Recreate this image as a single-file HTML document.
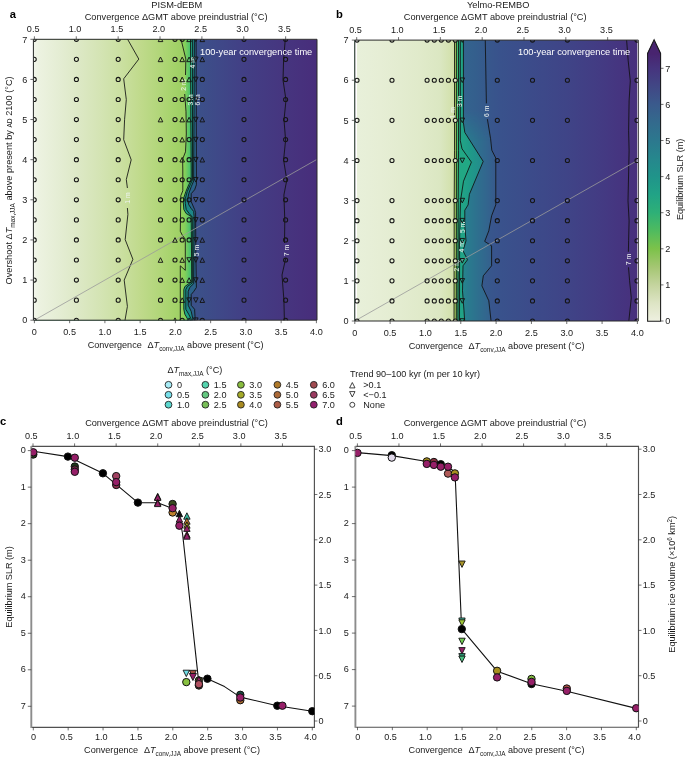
<!DOCTYPE html>
<html><head><meta charset="utf-8"><style>
html,body{margin:0;padding:0;background:#fff;overflow:hidden;}
svg{display:block;will-change:transform;}
</style></head><body>
<svg width="685" height="759" viewBox="0 0 685 759" font-family="'Liberation Sans', sans-serif">
<defs><linearGradient id="gaL" gradientUnits="userSpaceOnUse" x1="34" y1="0" x2="183" y2="0"><stop offset="0.0000" stop-color="#f1f5ea"/><stop offset="0.0403" stop-color="#ecf2e0"/><stop offset="0.1745" stop-color="#e4edd3"/><stop offset="0.3087" stop-color="#dce8c4"/><stop offset="0.4430" stop-color="#d4e4b4"/><stop offset="0.5772" stop-color="#cbe0a2"/><stop offset="0.7114" stop-color="#c0da8c"/><stop offset="0.8121" stop-color="#b5d77e"/><stop offset="0.9128" stop-color="#a8d46e"/><stop offset="1.0000" stop-color="#9ccf62"/></linearGradient><linearGradient id="gaG" gradientUnits="userSpaceOnUse" x1="181" y1="0" x2="191" y2="0"><stop offset="0.0000" stop-color="#96d25c"/><stop offset="0.4000" stop-color="#84d05a"/><stop offset="0.7000" stop-color="#62c866"/><stop offset="1.0000" stop-color="#40c070"/></linearGradient><linearGradient id="gaR" gradientUnits="userSpaceOnUse" x1="196" y1="0" x2="317" y2="0"><stop offset="0.0000" stop-color="#3b5189"/><stop offset="0.1983" stop-color="#3f4888"/><stop offset="0.3967" stop-color="#423f85"/><stop offset="0.5702" stop-color="#443a82"/><stop offset="0.7355" stop-color="#46357f"/><stop offset="1.0000" stop-color="#482d7b"/></linearGradient><clipPath id="ca"><rect x="33.9" y="39.3" width="283.1" height="280.9"/></clipPath><clipPath id="cb"><rect x="354.8" y="39.3" width="283.2" height="280.9"/></clipPath><linearGradient id="gbL" gradientUnits="userSpaceOnUse" x1="355" y1="0" x2="456" y2="0"><stop offset="0.0000" stop-color="#ffffff"/><stop offset="0.0158" stop-color="#ffffff"/><stop offset="0.0198" stop-color="#e8f0da"/><stop offset="0.2475" stop-color="#e6eed5"/><stop offset="0.4455" stop-color="#e3ecd0"/><stop offset="0.6436" stop-color="#e0eaca"/><stop offset="0.8416" stop-color="#dbe7c2"/><stop offset="0.9406" stop-color="#d4e2b0"/><stop offset="1.0000" stop-color="#cbdd9f"/></linearGradient><linearGradient id="gbR" gradientUnits="userSpaceOnUse" x1="463" y1="0" x2="638" y2="0"><stop offset="0.0000" stop-color="#33638e"/><stop offset="0.0686" stop-color="#345e8d"/><stop offset="0.1314" stop-color="#37588c"/><stop offset="0.2114" stop-color="#39528c"/><stop offset="0.3943" stop-color="#3c4b8a"/><stop offset="0.5943" stop-color="#3f4487"/><stop offset="0.7829" stop-color="#433b83"/><stop offset="0.9257" stop-color="#46337f"/><stop offset="0.9920" stop-color="#48307c"/><stop offset="0.9931" stop-color="#d8d0e8"/><stop offset="1.0000" stop-color="#d8d0e8"/></linearGradient><linearGradient id="gbM" gradientUnits="userSpaceOnUse" x1="463" y1="0" x2="496" y2="0"><stop offset="0.0000" stop-color="#24868c"/><stop offset="0.1515" stop-color="#297b8e"/><stop offset="0.4545" stop-color="#2e6f8e"/><stop offset="0.7576" stop-color="#33648e"/><stop offset="1.0000" stop-color="#37598c"/></linearGradient><linearGradient id="gbT" gradientUnits="userSpaceOnUse" x1="463" y1="0" x2="496" y2="0"><stop offset="0.0000" stop-color="#33648e"/><stop offset="0.3636" stop-color="#345f8d"/><stop offset="0.6970" stop-color="#36598c"/><stop offset="1.0000" stop-color="#38558c"/></linearGradient><linearGradient id="vfade" gradientUnits="userSpaceOnUse" x1="0" y1="110" x2="0" y2="140"><stop offset="0" stop-color="#fff"/><stop offset="1" stop-color="#000"/></linearGradient><mask id="mtop"><rect x="354.8" y="39.3" width="283.2" height="280.9" fill="url(#vfade)"/></mask><linearGradient id="gbB" gradientUnits="userSpaceOnUse" x1="463" y1="0" x2="485" y2="0"><stop offset="0.0000" stop-color="#21a386"/><stop offset="0.3182" stop-color="#1f9a88"/><stop offset="0.6818" stop-color="#22908b"/><stop offset="1.0000" stop-color="#258a8c"/></linearGradient><linearGradient id="gcb" gradientUnits="userSpaceOnUse" x1="0" y1="321" x2="0" y2="53.4"><stop offset="0.0000" stop-color="#eef0e0"/><stop offset="0.0675" stop-color="#dde4c4"/><stop offset="0.1349" stop-color="#c4d49e"/><stop offset="0.2024" stop-color="#a4c672"/><stop offset="0.2698" stop-color="#7cc24a"/><stop offset="0.3373" stop-color="#4fbb5f"/><stop offset="0.4047" stop-color="#2eb077"/><stop offset="0.4722" stop-color="#21a386"/><stop offset="0.5396" stop-color="#20948a"/><stop offset="0.6071" stop-color="#26878d"/><stop offset="0.6745" stop-color="#2c788e"/><stop offset="0.7420" stop-color="#336a8d"/><stop offset="0.8094" stop-color="#3a5a8c"/><stop offset="0.8769" stop-color="#414785"/><stop offset="0.9443" stop-color="#46347e"/><stop offset="1.0010" stop-color="#48246f"/></linearGradient><clipPath id="cc"><rect x="31.3" y="446.4" width="283.09999999999997" height="281.0"/></clipPath><clipPath id="cd"><rect x="355.4" y="446.4" width="283.1" height="280.80000000000007"/></clipPath></defs>
<rect width="685" height="759" fill="#fff"/>
<g clip-path="url(#ca)">
<rect x="33.9" y="39.3" width="283.1" height="280.9" fill="url(#gaR)"/>
<polygon points="31.90,34.30 196.10,35.00 196.30,120.00 196.40,170.00 196.40,184.80 194.60,189.80 191.20,193.70 191.20,201.60 194.60,209.50 195.60,212.50 195.80,250.00 196.40,287.50 193.70,291.50 191.20,294.50 191.20,305.30 194.60,309.30 195.10,318.20 195.30,325.00 31.90,325.20" fill="#2b638a"/>
<polygon points="31.90,34.30 194.40,35.00 194.00,120.00 193.70,170.00 193.70,180.90 191.20,186.80 188.70,193.70 187.70,199.60 188.70,204.60 191.20,208.50 193.70,211.50 194.20,217.40 193.90,250.00 193.70,283.60 189.70,287.50 188.20,291.50 188.20,305.30 191.20,311.30 192.70,318.20 193.00,325.00 31.90,325.20" fill="#1d8686"/>
<polygon points="31.90,34.30 192.40,35.00 192.50,120.00 192.50,170.00 192.50,179.90 190.20,184.80 187.20,191.70 185.30,198.70 185.30,203.60 186.20,209.50 189.20,213.50 192.70,217.40 192.70,250.00 192.70,282.60 187.20,286.60 185.80,289.50 185.80,309.30 188.70,314.20 191.20,319.20 191.80,325.00 31.90,325.20" fill="#1fa584"/>
<polygon points="31.90,34.30 190.50,35.00 190.80,120.00 191.20,170.00 191.20,179.90 188.70,184.80 185.80,191.70 183.80,197.70 183.30,202.60 183.80,209.50 186.20,213.50 191.20,216.40 191.50,250.00 191.70,281.60 184.80,286.60 183.80,289.50 183.80,309.30 184.80,314.20 187.70,319.20 188.50,325.00 31.90,325.20" fill="url(#gaG)"/>
<polygon points="31.90,34.30 181.00,35.00 181.00,39.20 185.80,59.00 185.50,75.00 184.90,86.00 184.70,94.00 186.00,111.70 186.30,134.00 185.50,151.80 182.60,159.20 182.80,170.00 182.80,190.80 180.80,195.70 180.30,231.30 182.30,235.20 185.30,239.20 185.30,270.30 180.30,265.80 180.30,325.00 31.90,325.20" fill="url(#gaL)"/>
</g>
<g transform="translate(0,0.8)"><g clip-path="url(#cb)">
<rect x="354.8" y="39.3" width="283.2" height="280.9" fill="url(#gbR)"/>
<polygon points="352.80,34.30 485.20,35.00 486.40,102.60 487.40,118.40 490.60,138.00 491.80,149.40 495.80,157.30 495.80,204.00 491.60,215.00 488.80,230.00 484.70,240.60 491.60,245.00 491.60,265.00 483.30,275.00 481.90,285.00 488.80,300.00 491.60,325.00 352.80,325.20" fill="url(#gbM)"/>
<polygon points="352.80,34.30 485.20,35.00 486.40,102.60 487.40,118.40 490.60,138.00 491.80,149.40 495.80,157.30 495.80,204.00 491.60,215.00 488.80,230.00 484.70,240.60 491.60,245.00 491.60,265.00 483.30,275.00 481.90,285.00 488.80,300.00 491.60,325.00 352.80,325.20" fill="url(#gbT)" mask="url(#mtop)"/>
<polygon points="352.80,34.30 463.40,35.00 463.40,122.00 464.80,131.60 483.20,160.60 469.40,193.50 468.10,204.10 464.80,209.40 464.80,225.00 466.00,240.00 463.00,250.00 467.50,259.00 463.00,265.00 462.50,290.00 464.00,310.00 465.00,325.00 352.80,325.20" fill="url(#gbB)"/>
<polygon points="352.80,34.30 460.30,35.00 460.30,140.00 462.00,148.00 471.40,161.30 463.50,180.40 460.50,200.00 459.60,240.00 459.50,325.00 352.80,325.20" fill="#22a884"/>
<polygon points="352.80,34.30 458.50,35.00 458.50,150.00 458.20,200.00 457.90,325.00 352.80,325.20" fill="#40c070"/>
<polygon points="352.80,34.30 456.40,35.00 456.40,150.00 456.40,200.00 456.30,325.00 352.80,325.20" fill="#a0c860"/>
<polygon points="352.80,34.30 454.50,35.00 454.50,150.00 454.20,200.00 454.00,325.00 352.80,325.20" fill="url(#gbL)"/>
</g></g>
<g clip-path="url(#ca)" fill="none" stroke="#111" stroke-width="0.85" stroke-linejoin="round">
<polyline points="127.40,35.00 127.40,38.90 138.80,59.10 123.70,78.80 126.30,99.60 124.60,119.30 123.70,139.70 131.20,159.80 126.30,179.50 127.40,188.00"/>
<polyline points="127.40,208.00 127.90,214.40 125.20,239.60 132.90,259.30 124.20,280.10 127.40,306.40 124.20,325.00"/>
<polyline points="181.00,35.00 181.00,39.20 185.80,59.00 185.50,75.00"/>
<polyline points="184.70,94.00 186.00,111.70 186.30,134.00 185.50,151.80 182.60,159.20 182.80,170.00 182.80,190.80 180.80,195.70 180.30,231.30 182.30,235.20 185.30,239.20 185.30,270.30 180.30,265.80 180.30,325.00"/>
<polyline points="190.50,35.00 190.80,120.00 191.20,170.00 191.20,179.90 188.70,184.80 185.80,191.70 183.80,197.70 183.30,202.60 183.80,209.50 186.20,213.50 191.20,216.40 191.50,250.00 191.70,281.60 184.80,286.60 183.80,289.50 183.80,309.30 184.80,314.20 187.70,319.20 188.50,325.00"/>
<polyline points="192.40,35.00 192.50,120.00 192.50,170.00 192.50,179.90 190.20,184.80 187.20,191.70 185.30,198.70 185.30,203.60 186.20,209.50 189.20,213.50 192.70,217.40 192.70,250.00 192.70,282.60 187.20,286.60 185.80,289.50 185.80,309.30 188.70,314.20 191.20,319.20 191.80,325.00"/>
<polyline points="194.40,35.00 194.00,120.00 193.70,170.00 193.70,180.90 191.20,186.80 188.70,193.70 187.70,199.60 188.70,204.60 191.20,208.50 193.70,211.50 194.20,217.40 193.90,250.00 193.70,283.60 189.70,287.50 188.20,291.50 188.20,305.30 191.20,311.30 192.70,318.20 193.00,325.00"/>
<polyline points="196.10,35.00 196.30,120.00 196.40,170.00 196.40,184.80 194.60,189.80 191.20,193.70 191.20,201.60 194.60,209.50 195.60,212.50 195.80,250.00 196.40,287.50 193.70,291.50 191.20,294.50 191.20,305.30 194.60,309.30 195.10,318.20 195.30,325.00"/>
<polyline points="285.60,35.00 283.60,60.00 283.00,80.00 286.00,100.00 284.00,120.00 285.60,140.00 283.60,160.00 286.80,180.00 283.90,195.00 284.80,220.00 284.50,243.00"/>
<polyline points="285.80,258.00 282.00,275.00 283.90,300.00 284.50,325.00"/>
</g>
<g transform="translate(0,0.8)"><g clip-path="url(#cb)" fill="none" stroke="#111" stroke-width="0.85" stroke-linejoin="round">
<polyline points="454.50,35.00 454.50,150.00 454.20,200.00 454.00,325.00"/>
<polyline points="456.40,35.00 456.40,150.00 456.40,200.00 456.30,325.00"/>
<polyline points="458.50,35.00 458.50,150.00 458.20,200.00 457.90,325.00"/>
<polyline points="460.30,35.00 460.30,140.00 462.00,148.00 471.40,161.30 463.50,180.40 460.50,200.00 459.60,240.00 459.50,325.00"/>
<polyline points="463.40,35.00 463.40,122.00 464.80,131.60 483.20,160.60 469.40,193.50 468.10,204.10 464.80,209.40 464.80,225.00 466.00,240.00 463.00,250.00 467.50,259.00 463.00,265.00 462.50,290.00 464.00,310.00 465.00,325.00"/>
<polyline points="485.20,35.00 486.40,102.60"/>
<polyline points="487.40,118.40 490.60,138.00 491.80,149.40 495.80,157.30 495.80,204.00 491.60,215.00 488.80,230.00 484.70,240.60 491.60,245.00 491.60,265.00 483.30,275.00 481.90,285.00 488.80,300.00 491.60,325.00"/>
<polyline points="626.30,35.00 628.20,60.00 630.30,80.00 629.10,100.00 628.60,130.00 629.10,150.00 628.00,200.00 629.10,220.00 628.60,240.00 628.40,251.00"/>
<polyline points="628.50,266.50 629.60,280.00 631.30,297.00 628.30,325.00"/>
</g></g>
<text x="127.4" y="200.4" font-size="6.8" fill="#eef4f0" text-anchor="middle" transform="rotate(-90 127.4 198.0)">1 m</text>
<text x="183.7" y="87.4" font-size="6.8" fill="#eef4f0" text-anchor="middle" transform="rotate(-90 183.7 85.0)">2 m</text>
<text x="192.5" y="65.2" font-size="6.8" fill="#eef4f0" text-anchor="middle" transform="rotate(-90 192.5 62.8)">4 m</text>
<text x="190.4" y="102.3" font-size="6.8" fill="#eef4f0" text-anchor="middle" transform="rotate(-90 190.4 99.9)">3 m</text>
<text x="197.6" y="102.3" font-size="6.8" fill="#eef4f0" text-anchor="middle" transform="rotate(-90 197.6 99.9)">6 m</text>
<text x="196.3" y="252.9" font-size="6.8" fill="#eef4f0" text-anchor="middle" transform="rotate(-90 196.3 250.5)">5 m</text>
<text x="286.5" y="252.9" font-size="6.8" fill="#eef4f0" text-anchor="middle" transform="rotate(-90 286.5 250.5)">7 m</text>
<g transform="translate(0,0.8)">
<text x="453.0" y="114.4" font-size="6.8" fill="#eef4f0" text-anchor="middle" transform="rotate(-90 453.0 112.0)">1 m</text>
<text x="459.8" y="103.0" font-size="6.8" fill="#eef4f0" text-anchor="middle" transform="rotate(-90 459.8 100.6)">3 m</text>
<text x="486.8" y="112.9" font-size="6.8" fill="#eef4f0" text-anchor="middle" transform="rotate(-90 486.8 110.5)">6 m</text>
<text x="462.5" y="228.9" font-size="6.8" fill="#eef4f0" text-anchor="middle" transform="rotate(-90 462.5 226.5)">5 m</text>
<text x="462.0" y="248.4" font-size="6.8" fill="#eef4f0" text-anchor="middle" transform="rotate(-90 462.0 246.0)">4 m</text>
<text x="456.5" y="267.4" font-size="6.8" fill="#eef4f0" text-anchor="middle" transform="rotate(-90 456.5 265.0)">2 m</text>
<text x="628.5" y="261.1" font-size="6.8" fill="#eef4f0" text-anchor="middle" transform="rotate(-90 628.5 258.7)">7 m</text>
</g>
<g clip-path="url(#ca)"><line x1="34.4" y1="320.2" x2="316.4" y2="159.68571428571428" stroke="#9a9a9a" stroke-width="0.8"/></g>
<g transform="translate(0,0.8)"><g clip-path="url(#cb)"><line x1="354.8" y1="320.2" x2="637.4" y2="159.68571428571428" stroke="#9a9a9a" stroke-width="0.8"/></g></g>
<g clip-path="url(#ca)">
<circle cx="34.20" cy="39.30" r="2.05" fill="none" stroke="#151515" stroke-width="1.05"/>
<circle cx="34.20" cy="59.36" r="2.05" fill="none" stroke="#151515" stroke-width="1.05"/>
<circle cx="34.20" cy="79.43" r="2.05" fill="none" stroke="#151515" stroke-width="1.05"/>
<circle cx="34.20" cy="99.49" r="2.05" fill="none" stroke="#151515" stroke-width="1.05"/>
<circle cx="34.20" cy="119.56" r="2.05" fill="none" stroke="#151515" stroke-width="1.05"/>
<circle cx="34.20" cy="139.62" r="2.05" fill="none" stroke="#151515" stroke-width="1.05"/>
<circle cx="34.20" cy="159.69" r="2.05" fill="none" stroke="#151515" stroke-width="1.05"/>
<circle cx="34.20" cy="179.75" r="2.05" fill="none" stroke="#151515" stroke-width="1.05"/>
<circle cx="34.20" cy="199.81" r="2.05" fill="none" stroke="#151515" stroke-width="1.05"/>
<circle cx="34.20" cy="219.88" r="2.05" fill="none" stroke="#151515" stroke-width="1.05"/>
<circle cx="34.20" cy="239.94" r="2.05" fill="none" stroke="#151515" stroke-width="1.05"/>
<circle cx="34.20" cy="260.01" r="2.05" fill="none" stroke="#151515" stroke-width="1.05"/>
<circle cx="34.20" cy="280.07" r="2.05" fill="none" stroke="#151515" stroke-width="1.05"/>
<circle cx="34.20" cy="300.14" r="2.05" fill="none" stroke="#151515" stroke-width="1.05"/>
<circle cx="34.20" cy="320.20" r="2.05" fill="none" stroke="#151515" stroke-width="1.05"/>
<circle cx="76.40" cy="39.30" r="2.05" fill="none" stroke="#151515" stroke-width="1.05"/>
<circle cx="76.40" cy="59.36" r="2.05" fill="none" stroke="#151515" stroke-width="1.05"/>
<circle cx="76.40" cy="79.43" r="2.05" fill="none" stroke="#151515" stroke-width="1.05"/>
<circle cx="76.40" cy="99.49" r="2.05" fill="none" stroke="#151515" stroke-width="1.05"/>
<circle cx="76.40" cy="119.56" r="2.05" fill="none" stroke="#151515" stroke-width="1.05"/>
<circle cx="76.40" cy="139.62" r="2.05" fill="none" stroke="#151515" stroke-width="1.05"/>
<circle cx="76.40" cy="159.69" r="2.05" fill="none" stroke="#151515" stroke-width="1.05"/>
<circle cx="76.40" cy="179.75" r="2.05" fill="none" stroke="#151515" stroke-width="1.05"/>
<circle cx="76.40" cy="199.81" r="2.05" fill="none" stroke="#151515" stroke-width="1.05"/>
<circle cx="76.40" cy="219.88" r="2.05" fill="none" stroke="#151515" stroke-width="1.05"/>
<circle cx="76.40" cy="239.94" r="2.05" fill="none" stroke="#151515" stroke-width="1.05"/>
<circle cx="76.40" cy="260.01" r="2.05" fill="none" stroke="#151515" stroke-width="1.05"/>
<circle cx="76.40" cy="280.07" r="2.05" fill="none" stroke="#151515" stroke-width="1.05"/>
<circle cx="76.40" cy="300.14" r="2.05" fill="none" stroke="#151515" stroke-width="1.05"/>
<circle cx="76.40" cy="320.20" r="2.05" fill="none" stroke="#151515" stroke-width="1.05"/>
<circle cx="118.20" cy="39.30" r="2.05" fill="none" stroke="#151515" stroke-width="1.05"/>
<circle cx="118.20" cy="59.36" r="2.05" fill="none" stroke="#151515" stroke-width="1.05"/>
<circle cx="118.20" cy="79.43" r="2.05" fill="none" stroke="#151515" stroke-width="1.05"/>
<circle cx="118.20" cy="99.49" r="2.05" fill="none" stroke="#151515" stroke-width="1.05"/>
<circle cx="118.20" cy="119.56" r="2.05" fill="none" stroke="#151515" stroke-width="1.05"/>
<circle cx="118.20" cy="139.62" r="2.05" fill="none" stroke="#151515" stroke-width="1.05"/>
<circle cx="118.20" cy="159.69" r="2.05" fill="none" stroke="#151515" stroke-width="1.05"/>
<circle cx="118.20" cy="179.75" r="2.05" fill="none" stroke="#151515" stroke-width="1.05"/>
<circle cx="118.20" cy="199.81" r="2.05" fill="none" stroke="#151515" stroke-width="1.05"/>
<circle cx="118.20" cy="219.88" r="2.05" fill="none" stroke="#151515" stroke-width="1.05"/>
<circle cx="118.20" cy="239.94" r="2.05" fill="none" stroke="#151515" stroke-width="1.05"/>
<circle cx="118.20" cy="260.01" r="2.05" fill="none" stroke="#151515" stroke-width="1.05"/>
<circle cx="118.20" cy="280.07" r="2.05" fill="none" stroke="#151515" stroke-width="1.05"/>
<circle cx="118.20" cy="300.14" r="2.05" fill="none" stroke="#151515" stroke-width="1.05"/>
<circle cx="118.20" cy="320.20" r="2.05" fill="none" stroke="#151515" stroke-width="1.05"/>
<polygon points="158.20,41.60 162.80,41.60 160.50,37.00" fill="none" stroke="#151515" stroke-width="0.95" stroke-linejoin="miter"/>
<polygon points="158.20,61.66 162.80,61.66 160.50,57.06" fill="none" stroke="#151515" stroke-width="0.95" stroke-linejoin="miter"/>
<circle cx="160.50" cy="79.43" r="2.05" fill="none" stroke="#151515" stroke-width="1.05"/>
<circle cx="160.50" cy="99.49" r="2.05" fill="none" stroke="#151515" stroke-width="1.05"/>
<polygon points="158.20,121.86 162.80,121.86 160.50,117.26" fill="none" stroke="#151515" stroke-width="0.95" stroke-linejoin="miter"/>
<circle cx="160.50" cy="139.62" r="2.05" fill="none" stroke="#151515" stroke-width="1.05"/>
<circle cx="160.50" cy="159.69" r="2.05" fill="none" stroke="#151515" stroke-width="1.05"/>
<circle cx="160.50" cy="179.75" r="2.05" fill="none" stroke="#151515" stroke-width="1.05"/>
<circle cx="160.50" cy="199.81" r="2.05" fill="none" stroke="#151515" stroke-width="1.05"/>
<circle cx="160.50" cy="219.88" r="2.05" fill="none" stroke="#151515" stroke-width="1.05"/>
<circle cx="160.50" cy="239.94" r="2.05" fill="none" stroke="#151515" stroke-width="1.05"/>
<polygon points="158.20,262.31 162.80,262.31 160.50,257.71" fill="none" stroke="#151515" stroke-width="0.95" stroke-linejoin="miter"/>
<circle cx="160.50" cy="280.07" r="2.05" fill="none" stroke="#151515" stroke-width="1.05"/>
<circle cx="160.50" cy="300.14" r="2.05" fill="none" stroke="#151515" stroke-width="1.05"/>
<circle cx="160.50" cy="320.20" r="2.05" fill="none" stroke="#151515" stroke-width="1.05"/>
<circle cx="175.00" cy="39.30" r="2.05" fill="none" stroke="#151515" stroke-width="1.05"/>
<circle cx="175.00" cy="59.36" r="2.05" fill="none" stroke="#151515" stroke-width="1.05"/>
<circle cx="175.00" cy="79.43" r="2.05" fill="none" stroke="#151515" stroke-width="1.05"/>
<circle cx="175.00" cy="99.49" r="2.05" fill="none" stroke="#151515" stroke-width="1.05"/>
<circle cx="175.00" cy="119.56" r="2.05" fill="none" stroke="#151515" stroke-width="1.05"/>
<circle cx="175.00" cy="139.62" r="2.05" fill="none" stroke="#151515" stroke-width="1.05"/>
<circle cx="175.00" cy="159.69" r="2.05" fill="none" stroke="#151515" stroke-width="1.05"/>
<circle cx="175.00" cy="179.75" r="2.05" fill="none" stroke="#151515" stroke-width="1.05"/>
<circle cx="175.00" cy="199.81" r="2.05" fill="none" stroke="#151515" stroke-width="1.05"/>
<circle cx="175.00" cy="219.88" r="2.05" fill="none" stroke="#151515" stroke-width="1.05"/>
<polygon points="172.70,242.24 177.30,242.24 175.00,237.64" fill="none" stroke="#151515" stroke-width="0.95" stroke-linejoin="miter"/>
<circle cx="175.00" cy="260.01" r="2.05" fill="none" stroke="#151515" stroke-width="1.05"/>
<circle cx="175.00" cy="280.07" r="2.05" fill="none" stroke="#151515" stroke-width="1.05"/>
<circle cx="175.00" cy="300.14" r="2.05" fill="none" stroke="#151515" stroke-width="1.05"/>
<polygon points="172.70,322.50 177.30,322.50 175.00,317.90" fill="none" stroke="#151515" stroke-width="0.95" stroke-linejoin="miter"/>
<circle cx="182.20" cy="39.30" r="2.05" fill="none" stroke="#151515" stroke-width="1.05"/>
<polygon points="179.90,61.66 184.50,61.66 182.20,57.06" fill="none" stroke="#151515" stroke-width="0.95" stroke-linejoin="miter"/>
<polygon points="179.90,81.73 184.50,81.73 182.20,77.13" fill="none" stroke="#151515" stroke-width="0.95" stroke-linejoin="miter"/>
<circle cx="182.20" cy="99.49" r="2.05" fill="none" stroke="#151515" stroke-width="1.05"/>
<polygon points="179.90,121.86 184.50,121.86 182.20,117.26" fill="none" stroke="#151515" stroke-width="0.95" stroke-linejoin="miter"/>
<polygon points="179.90,141.92 184.50,141.92 182.20,137.32" fill="none" stroke="#151515" stroke-width="0.95" stroke-linejoin="miter"/>
<polygon points="179.90,161.99 184.50,161.99 182.20,157.39" fill="none" stroke="#151515" stroke-width="0.95" stroke-linejoin="miter"/>
<circle cx="182.20" cy="179.75" r="2.05" fill="none" stroke="#151515" stroke-width="1.05"/>
<circle cx="182.20" cy="199.81" r="2.05" fill="none" stroke="#151515" stroke-width="1.05"/>
<circle cx="182.20" cy="219.88" r="2.05" fill="none" stroke="#151515" stroke-width="1.05"/>
<circle cx="182.20" cy="239.94" r="2.05" fill="none" stroke="#151515" stroke-width="1.05"/>
<polygon points="179.90,262.31 184.50,262.31 182.20,257.71" fill="none" stroke="#151515" stroke-width="0.95" stroke-linejoin="miter"/>
<polygon points="179.90,282.37 184.50,282.37 182.20,277.77" fill="none" stroke="#151515" stroke-width="0.95" stroke-linejoin="miter"/>
<polygon points="179.90,302.44 184.50,302.44 182.20,297.84" fill="none" stroke="#151515" stroke-width="0.95" stroke-linejoin="miter"/>
<circle cx="182.20" cy="320.20" r="2.05" fill="none" stroke="#151515" stroke-width="1.05"/>
<polygon points="186.80,41.60 191.40,41.60 189.10,37.00" fill="none" stroke="#151515" stroke-width="0.95" stroke-linejoin="miter"/>
<polygon points="186.80,61.66 191.40,61.66 189.10,57.06" fill="none" stroke="#151515" stroke-width="0.95" stroke-linejoin="miter"/>
<polygon points="186.80,81.73 191.40,81.73 189.10,77.13" fill="none" stroke="#151515" stroke-width="0.95" stroke-linejoin="miter"/>
<circle cx="189.10" cy="99.49" r="2.05" fill="none" stroke="#151515" stroke-width="1.05"/>
<polygon points="186.80,121.86 191.40,121.86 189.10,117.26" fill="none" stroke="#151515" stroke-width="0.95" stroke-linejoin="miter"/>
<circle cx="189.10" cy="139.62" r="2.05" fill="none" stroke="#151515" stroke-width="1.05"/>
<circle cx="189.10" cy="159.69" r="2.05" fill="none" stroke="#151515" stroke-width="1.05"/>
<circle cx="189.10" cy="179.75" r="2.05" fill="none" stroke="#151515" stroke-width="1.05"/>
<circle cx="189.10" cy="199.81" r="2.05" fill="none" stroke="#151515" stroke-width="1.05"/>
<circle cx="189.10" cy="219.88" r="2.05" fill="none" stroke="#151515" stroke-width="1.05"/>
<circle cx="189.10" cy="239.94" r="2.05" fill="none" stroke="#151515" stroke-width="1.05"/>
<polygon points="186.80,257.71 191.40,257.71 189.10,262.31" fill="none" stroke="#151515" stroke-width="0.95" stroke-linejoin="miter"/>
<polygon points="186.80,282.37 191.40,282.37 189.10,277.77" fill="none" stroke="#151515" stroke-width="0.95" stroke-linejoin="miter"/>
<polygon points="186.80,297.84 191.40,297.84 189.10,302.44" fill="none" stroke="#151515" stroke-width="0.95" stroke-linejoin="miter"/>
<polygon points="186.80,322.50 191.40,322.50 189.10,317.90" fill="none" stroke="#151515" stroke-width="0.95" stroke-linejoin="miter"/>
<polygon points="193.50,37.00 198.10,37.00 195.80,41.60" fill="none" stroke="#151515" stroke-width="0.95" stroke-linejoin="miter"/>
<polygon points="193.50,57.06 198.10,57.06 195.80,61.66" fill="none" stroke="#151515" stroke-width="0.95" stroke-linejoin="miter"/>
<polygon points="193.50,77.13 198.10,77.13 195.80,81.73" fill="none" stroke="#151515" stroke-width="0.95" stroke-linejoin="miter"/>
<polygon points="193.50,97.19 198.10,97.19 195.80,101.79" fill="none" stroke="#151515" stroke-width="0.95" stroke-linejoin="miter"/>
<polygon points="193.50,117.26 198.10,117.26 195.80,121.86" fill="none" stroke="#151515" stroke-width="0.95" stroke-linejoin="miter"/>
<polygon points="193.50,137.32 198.10,137.32 195.80,141.92" fill="none" stroke="#151515" stroke-width="0.95" stroke-linejoin="miter"/>
<polygon points="193.50,157.39 198.10,157.39 195.80,161.99" fill="none" stroke="#151515" stroke-width="0.95" stroke-linejoin="miter"/>
<polygon points="193.50,177.45 198.10,177.45 195.80,182.05" fill="none" stroke="#151515" stroke-width="0.95" stroke-linejoin="miter"/>
<polygon points="193.50,197.51 198.10,197.51 195.80,202.11" fill="none" stroke="#151515" stroke-width="0.95" stroke-linejoin="miter"/>
<polygon points="193.50,217.58 198.10,217.58 195.80,222.18" fill="none" stroke="#151515" stroke-width="0.95" stroke-linejoin="miter"/>
<polygon points="193.50,237.64 198.10,237.64 195.80,242.24" fill="none" stroke="#151515" stroke-width="0.95" stroke-linejoin="miter"/>
<polygon points="193.50,257.71 198.10,257.71 195.80,262.31" fill="none" stroke="#151515" stroke-width="0.95" stroke-linejoin="miter"/>
<polygon points="193.50,277.77 198.10,277.77 195.80,282.37" fill="none" stroke="#151515" stroke-width="0.95" stroke-linejoin="miter"/>
<polygon points="193.50,297.84 198.10,297.84 195.80,302.44" fill="none" stroke="#151515" stroke-width="0.95" stroke-linejoin="miter"/>
<polygon points="193.50,317.90 198.10,317.90 195.80,322.50" fill="none" stroke="#151515" stroke-width="0.95" stroke-linejoin="miter"/>
<polygon points="200.00,41.60 204.60,41.60 202.30,37.00" fill="none" stroke="#151515" stroke-width="0.95" stroke-linejoin="miter"/>
<polygon points="200.00,61.66 204.60,61.66 202.30,57.06" fill="none" stroke="#151515" stroke-width="0.95" stroke-linejoin="miter"/>
<circle cx="202.30" cy="79.43" r="2.05" fill="none" stroke="#151515" stroke-width="1.05"/>
<circle cx="202.30" cy="99.49" r="2.05" fill="none" stroke="#151515" stroke-width="1.05"/>
<polygon points="200.00,121.86 204.60,121.86 202.30,117.26" fill="none" stroke="#151515" stroke-width="0.95" stroke-linejoin="miter"/>
<circle cx="202.30" cy="139.62" r="2.05" fill="none" stroke="#151515" stroke-width="1.05"/>
<polygon points="200.00,161.99 204.60,161.99 202.30,157.39" fill="none" stroke="#151515" stroke-width="0.95" stroke-linejoin="miter"/>
<circle cx="202.30" cy="179.75" r="2.05" fill="none" stroke="#151515" stroke-width="1.05"/>
<circle cx="202.30" cy="199.81" r="2.05" fill="none" stroke="#151515" stroke-width="1.05"/>
<circle cx="202.30" cy="219.88" r="2.05" fill="none" stroke="#151515" stroke-width="1.05"/>
<polygon points="200.00,242.24 204.60,242.24 202.30,237.64" fill="none" stroke="#151515" stroke-width="0.95" stroke-linejoin="miter"/>
<polygon points="200.00,262.31 204.60,262.31 202.30,257.71" fill="none" stroke="#151515" stroke-width="0.95" stroke-linejoin="miter"/>
<polygon points="200.00,282.37 204.60,282.37 202.30,277.77" fill="none" stroke="#151515" stroke-width="0.95" stroke-linejoin="miter"/>
<polygon points="200.00,302.44 204.60,302.44 202.30,297.84" fill="none" stroke="#151515" stroke-width="0.95" stroke-linejoin="miter"/>
<circle cx="202.30" cy="320.20" r="2.05" fill="none" stroke="#151515" stroke-width="1.05"/>
<circle cx="244.00" cy="39.30" r="2.05" fill="none" stroke="#151515" stroke-width="1.05"/>
<circle cx="244.00" cy="59.36" r="2.05" fill="none" stroke="#151515" stroke-width="1.05"/>
<circle cx="244.00" cy="79.43" r="2.05" fill="none" stroke="#151515" stroke-width="1.05"/>
<circle cx="244.00" cy="99.49" r="2.05" fill="none" stroke="#151515" stroke-width="1.05"/>
<circle cx="244.00" cy="119.56" r="2.05" fill="none" stroke="#151515" stroke-width="1.05"/>
<circle cx="244.00" cy="139.62" r="2.05" fill="none" stroke="#151515" stroke-width="1.05"/>
<circle cx="244.00" cy="159.69" r="2.05" fill="none" stroke="#151515" stroke-width="1.05"/>
<circle cx="244.00" cy="179.75" r="2.05" fill="none" stroke="#151515" stroke-width="1.05"/>
<circle cx="244.00" cy="199.81" r="2.05" fill="none" stroke="#151515" stroke-width="1.05"/>
<circle cx="244.00" cy="219.88" r="2.05" fill="none" stroke="#151515" stroke-width="1.05"/>
<circle cx="244.00" cy="239.94" r="2.05" fill="none" stroke="#151515" stroke-width="1.05"/>
<circle cx="244.00" cy="260.01" r="2.05" fill="none" stroke="#151515" stroke-width="1.05"/>
<circle cx="244.00" cy="280.07" r="2.05" fill="none" stroke="#151515" stroke-width="1.05"/>
<circle cx="244.00" cy="300.14" r="2.05" fill="none" stroke="#151515" stroke-width="1.05"/>
<circle cx="244.00" cy="320.20" r="2.05" fill="none" stroke="#151515" stroke-width="1.05"/>
<circle cx="285.60" cy="39.30" r="2.05" fill="none" stroke="#151515" stroke-width="1.05"/>
<circle cx="285.60" cy="59.36" r="2.05" fill="none" stroke="#151515" stroke-width="1.05"/>
<circle cx="285.60" cy="79.43" r="2.05" fill="none" stroke="#151515" stroke-width="1.05"/>
<circle cx="285.60" cy="99.49" r="2.05" fill="none" stroke="#151515" stroke-width="1.05"/>
<circle cx="285.60" cy="119.56" r="2.05" fill="none" stroke="#151515" stroke-width="1.05"/>
<circle cx="285.60" cy="139.62" r="2.05" fill="none" stroke="#151515" stroke-width="1.05"/>
<circle cx="285.60" cy="159.69" r="2.05" fill="none" stroke="#151515" stroke-width="1.05"/>
<circle cx="285.60" cy="179.75" r="2.05" fill="none" stroke="#151515" stroke-width="1.05"/>
<circle cx="285.60" cy="199.81" r="2.05" fill="none" stroke="#151515" stroke-width="1.05"/>
<circle cx="285.60" cy="219.88" r="2.05" fill="none" stroke="#151515" stroke-width="1.05"/>
<circle cx="285.60" cy="239.94" r="2.05" fill="none" stroke="#151515" stroke-width="1.05"/>
<circle cx="285.60" cy="260.01" r="2.05" fill="none" stroke="#151515" stroke-width="1.05"/>
<circle cx="285.60" cy="280.07" r="2.05" fill="none" stroke="#151515" stroke-width="1.05"/>
<circle cx="285.60" cy="300.14" r="2.05" fill="none" stroke="#151515" stroke-width="1.05"/>
<circle cx="285.60" cy="320.20" r="2.05" fill="none" stroke="#151515" stroke-width="1.05"/>
</g>
<g transform="translate(0,0.8)"><g clip-path="url(#cb)">
<circle cx="357.00" cy="39.30" r="2.05" fill="none" stroke="#151515" stroke-width="1.05"/>
<circle cx="357.00" cy="79.43" r="2.05" fill="none" stroke="#151515" stroke-width="1.05"/>
<circle cx="357.00" cy="119.56" r="2.05" fill="none" stroke="#151515" stroke-width="1.05"/>
<circle cx="357.00" cy="159.69" r="2.05" fill="none" stroke="#151515" stroke-width="1.05"/>
<circle cx="357.00" cy="199.81" r="2.05" fill="none" stroke="#151515" stroke-width="1.05"/>
<circle cx="357.00" cy="219.88" r="2.05" fill="none" stroke="#151515" stroke-width="1.05"/>
<circle cx="357.00" cy="239.94" r="2.05" fill="none" stroke="#151515" stroke-width="1.05"/>
<circle cx="357.00" cy="260.01" r="2.05" fill="none" stroke="#151515" stroke-width="1.05"/>
<circle cx="357.00" cy="280.07" r="2.05" fill="none" stroke="#151515" stroke-width="1.05"/>
<circle cx="357.00" cy="300.14" r="2.05" fill="none" stroke="#151515" stroke-width="1.05"/>
<circle cx="357.00" cy="320.20" r="2.05" fill="none" stroke="#151515" stroke-width="1.05"/>
<circle cx="392.00" cy="39.30" r="2.05" fill="none" stroke="#151515" stroke-width="1.05"/>
<circle cx="392.00" cy="79.43" r="2.05" fill="none" stroke="#151515" stroke-width="1.05"/>
<circle cx="392.00" cy="119.56" r="2.05" fill="none" stroke="#151515" stroke-width="1.05"/>
<circle cx="392.00" cy="159.69" r="2.05" fill="none" stroke="#151515" stroke-width="1.05"/>
<circle cx="392.00" cy="199.81" r="2.05" fill="none" stroke="#151515" stroke-width="1.05"/>
<circle cx="392.00" cy="219.88" r="2.05" fill="none" stroke="#151515" stroke-width="1.05"/>
<circle cx="392.00" cy="239.94" r="2.05" fill="none" stroke="#151515" stroke-width="1.05"/>
<circle cx="392.00" cy="260.01" r="2.05" fill="none" stroke="#151515" stroke-width="1.05"/>
<circle cx="392.00" cy="280.07" r="2.05" fill="none" stroke="#151515" stroke-width="1.05"/>
<circle cx="392.00" cy="300.14" r="2.05" fill="none" stroke="#151515" stroke-width="1.05"/>
<circle cx="392.00" cy="320.20" r="2.05" fill="none" stroke="#151515" stroke-width="1.05"/>
<circle cx="427.10" cy="39.30" r="2.05" fill="none" stroke="#151515" stroke-width="1.05"/>
<circle cx="427.10" cy="79.43" r="2.05" fill="none" stroke="#151515" stroke-width="1.05"/>
<circle cx="427.10" cy="119.56" r="2.05" fill="none" stroke="#151515" stroke-width="1.05"/>
<circle cx="427.10" cy="159.69" r="2.05" fill="none" stroke="#151515" stroke-width="1.05"/>
<circle cx="427.10" cy="199.81" r="2.05" fill="none" stroke="#151515" stroke-width="1.05"/>
<circle cx="427.10" cy="219.88" r="2.05" fill="none" stroke="#151515" stroke-width="1.05"/>
<circle cx="427.10" cy="239.94" r="2.05" fill="none" stroke="#151515" stroke-width="1.05"/>
<circle cx="427.10" cy="260.01" r="2.05" fill="none" stroke="#151515" stroke-width="1.05"/>
<circle cx="427.10" cy="280.07" r="2.05" fill="none" stroke="#151515" stroke-width="1.05"/>
<circle cx="427.10" cy="300.14" r="2.05" fill="none" stroke="#151515" stroke-width="1.05"/>
<circle cx="427.10" cy="320.20" r="2.05" fill="none" stroke="#151515" stroke-width="1.05"/>
<circle cx="434.30" cy="39.30" r="2.05" fill="none" stroke="#151515" stroke-width="1.05"/>
<circle cx="434.30" cy="79.43" r="2.05" fill="none" stroke="#151515" stroke-width="1.05"/>
<circle cx="434.30" cy="119.56" r="2.05" fill="none" stroke="#151515" stroke-width="1.05"/>
<circle cx="434.30" cy="159.69" r="2.05" fill="none" stroke="#151515" stroke-width="1.05"/>
<circle cx="434.30" cy="199.81" r="2.05" fill="none" stroke="#151515" stroke-width="1.05"/>
<circle cx="434.30" cy="219.88" r="2.05" fill="none" stroke="#151515" stroke-width="1.05"/>
<circle cx="434.30" cy="239.94" r="2.05" fill="none" stroke="#151515" stroke-width="1.05"/>
<circle cx="434.30" cy="260.01" r="2.05" fill="none" stroke="#151515" stroke-width="1.05"/>
<circle cx="434.30" cy="280.07" r="2.05" fill="none" stroke="#151515" stroke-width="1.05"/>
<circle cx="434.30" cy="300.14" r="2.05" fill="none" stroke="#151515" stroke-width="1.05"/>
<circle cx="434.30" cy="320.20" r="2.05" fill="none" stroke="#151515" stroke-width="1.05"/>
<circle cx="441.30" cy="39.30" r="2.05" fill="none" stroke="#151515" stroke-width="1.05"/>
<circle cx="441.30" cy="79.43" r="2.05" fill="none" stroke="#151515" stroke-width="1.05"/>
<circle cx="441.30" cy="119.56" r="2.05" fill="none" stroke="#151515" stroke-width="1.05"/>
<circle cx="441.30" cy="159.69" r="2.05" fill="none" stroke="#151515" stroke-width="1.05"/>
<circle cx="441.30" cy="199.81" r="2.05" fill="none" stroke="#151515" stroke-width="1.05"/>
<circle cx="441.30" cy="219.88" r="2.05" fill="none" stroke="#151515" stroke-width="1.05"/>
<circle cx="441.30" cy="239.94" r="2.05" fill="none" stroke="#151515" stroke-width="1.05"/>
<circle cx="441.30" cy="260.01" r="2.05" fill="none" stroke="#151515" stroke-width="1.05"/>
<circle cx="441.30" cy="280.07" r="2.05" fill="none" stroke="#151515" stroke-width="1.05"/>
<circle cx="441.30" cy="300.14" r="2.05" fill="none" stroke="#151515" stroke-width="1.05"/>
<circle cx="441.30" cy="320.20" r="2.05" fill="none" stroke="#151515" stroke-width="1.05"/>
<circle cx="448.40" cy="39.30" r="2.05" fill="none" stroke="#151515" stroke-width="1.05"/>
<circle cx="448.40" cy="79.43" r="2.05" fill="none" stroke="#151515" stroke-width="1.05"/>
<circle cx="448.40" cy="119.56" r="2.05" fill="none" stroke="#151515" stroke-width="1.05"/>
<circle cx="448.40" cy="159.69" r="2.05" fill="none" stroke="#151515" stroke-width="1.05"/>
<circle cx="448.40" cy="199.81" r="2.05" fill="none" stroke="#151515" stroke-width="1.05"/>
<circle cx="448.40" cy="219.88" r="2.05" fill="none" stroke="#151515" stroke-width="1.05"/>
<circle cx="448.40" cy="239.94" r="2.05" fill="none" stroke="#151515" stroke-width="1.05"/>
<circle cx="448.40" cy="260.01" r="2.05" fill="none" stroke="#151515" stroke-width="1.05"/>
<circle cx="448.40" cy="280.07" r="2.05" fill="none" stroke="#151515" stroke-width="1.05"/>
<circle cx="448.40" cy="300.14" r="2.05" fill="none" stroke="#151515" stroke-width="1.05"/>
<circle cx="448.40" cy="320.20" r="2.05" fill="none" stroke="#151515" stroke-width="1.05"/>
<circle cx="455.30" cy="39.30" r="2.05" fill="#dfe8c2" stroke="#151515" stroke-width="1.05"/>
<circle cx="455.30" cy="79.43" r="2.05" fill="#dfe8c2" stroke="#151515" stroke-width="1.05"/>
<circle cx="455.30" cy="119.56" r="2.05" fill="#dfe8c2" stroke="#151515" stroke-width="1.05"/>
<circle cx="455.30" cy="159.69" r="2.05" fill="#dfe8c2" stroke="#151515" stroke-width="1.05"/>
<circle cx="455.30" cy="199.81" r="2.05" fill="#dfe8c2" stroke="#151515" stroke-width="1.05"/>
<circle cx="455.30" cy="219.88" r="2.05" fill="#dfe8c2" stroke="#151515" stroke-width="1.05"/>
<circle cx="455.30" cy="239.94" r="2.05" fill="#dfe8c2" stroke="#151515" stroke-width="1.05"/>
<circle cx="455.30" cy="260.01" r="2.05" fill="#dfe8c2" stroke="#151515" stroke-width="1.05"/>
<circle cx="455.30" cy="280.07" r="2.05" fill="#dfe8c2" stroke="#151515" stroke-width="1.05"/>
<circle cx="455.30" cy="300.14" r="2.05" fill="#dfe8c2" stroke="#151515" stroke-width="1.05"/>
<circle cx="455.30" cy="320.20" r="2.05" fill="#dfe8c2" stroke="#151515" stroke-width="1.05"/>
<polygon points="460.00,37.00 464.60,37.00 462.30,41.60" fill="none" stroke="#151515" stroke-width="0.95" stroke-linejoin="miter"/>
<polygon points="460.00,77.13 464.60,77.13 462.30,81.73" fill="none" stroke="#151515" stroke-width="0.95" stroke-linejoin="miter"/>
<polygon points="460.00,117.26 464.60,117.26 462.30,121.86" fill="none" stroke="#151515" stroke-width="0.95" stroke-linejoin="miter"/>
<polygon points="460.00,157.39 464.60,157.39 462.30,161.99" fill="none" stroke="#151515" stroke-width="0.95" stroke-linejoin="miter"/>
<polygon points="460.00,197.51 464.60,197.51 462.30,202.11" fill="none" stroke="#151515" stroke-width="0.95" stroke-linejoin="miter"/>
<polygon points="460.00,217.58 464.60,217.58 462.30,222.18" fill="none" stroke="#151515" stroke-width="0.95" stroke-linejoin="miter"/>
<polygon points="460.00,237.64 464.60,237.64 462.30,242.24" fill="none" stroke="#151515" stroke-width="0.95" stroke-linejoin="miter"/>
<polygon points="460.00,257.71 464.60,257.71 462.30,262.31" fill="none" stroke="#151515" stroke-width="0.95" stroke-linejoin="miter"/>
<polygon points="460.00,277.77 464.60,277.77 462.30,282.37" fill="none" stroke="#151515" stroke-width="0.95" stroke-linejoin="miter"/>
<polygon points="460.00,297.84 464.60,297.84 462.30,302.44" fill="none" stroke="#151515" stroke-width="0.95" stroke-linejoin="miter"/>
<polygon points="460.00,317.90 464.60,317.90 462.30,322.50" fill="none" stroke="#151515" stroke-width="0.95" stroke-linejoin="miter"/>
<circle cx="497.30" cy="39.30" r="2.05" fill="none" stroke="#151515" stroke-width="1.05"/>
<circle cx="497.30" cy="79.43" r="2.05" fill="none" stroke="#151515" stroke-width="1.05"/>
<circle cx="497.30" cy="119.56" r="2.05" fill="none" stroke="#151515" stroke-width="1.05"/>
<circle cx="497.30" cy="159.69" r="2.05" fill="none" stroke="#151515" stroke-width="1.05"/>
<circle cx="497.30" cy="199.81" r="2.05" fill="none" stroke="#151515" stroke-width="1.05"/>
<circle cx="497.30" cy="219.88" r="2.05" fill="none" stroke="#151515" stroke-width="1.05"/>
<circle cx="497.30" cy="239.94" r="2.05" fill="none" stroke="#151515" stroke-width="1.05"/>
<circle cx="497.30" cy="260.01" r="2.05" fill="none" stroke="#151515" stroke-width="1.05"/>
<circle cx="497.30" cy="280.07" r="2.05" fill="none" stroke="#151515" stroke-width="1.05"/>
<circle cx="497.30" cy="300.14" r="2.05" fill="none" stroke="#151515" stroke-width="1.05"/>
<circle cx="497.30" cy="320.20" r="2.05" fill="none" stroke="#151515" stroke-width="1.05"/>
<circle cx="532.50" cy="39.30" r="2.05" fill="none" stroke="#151515" stroke-width="1.05"/>
<circle cx="532.50" cy="79.43" r="2.05" fill="none" stroke="#151515" stroke-width="1.05"/>
<circle cx="532.50" cy="119.56" r="2.05" fill="none" stroke="#151515" stroke-width="1.05"/>
<circle cx="532.50" cy="159.69" r="2.05" fill="none" stroke="#151515" stroke-width="1.05"/>
<circle cx="532.50" cy="199.81" r="2.05" fill="none" stroke="#151515" stroke-width="1.05"/>
<circle cx="532.50" cy="219.88" r="2.05" fill="none" stroke="#151515" stroke-width="1.05"/>
<circle cx="532.50" cy="239.94" r="2.05" fill="none" stroke="#151515" stroke-width="1.05"/>
<circle cx="532.50" cy="260.01" r="2.05" fill="none" stroke="#151515" stroke-width="1.05"/>
<circle cx="532.50" cy="280.07" r="2.05" fill="none" stroke="#151515" stroke-width="1.05"/>
<circle cx="532.50" cy="300.14" r="2.05" fill="none" stroke="#151515" stroke-width="1.05"/>
<circle cx="532.50" cy="320.20" r="2.05" fill="none" stroke="#151515" stroke-width="1.05"/>
<circle cx="567.40" cy="39.30" r="2.05" fill="none" stroke="#151515" stroke-width="1.05"/>
<circle cx="567.40" cy="79.43" r="2.05" fill="none" stroke="#151515" stroke-width="1.05"/>
<circle cx="567.40" cy="119.56" r="2.05" fill="none" stroke="#151515" stroke-width="1.05"/>
<circle cx="567.40" cy="159.69" r="2.05" fill="none" stroke="#151515" stroke-width="1.05"/>
<circle cx="567.40" cy="199.81" r="2.05" fill="none" stroke="#151515" stroke-width="1.05"/>
<circle cx="567.40" cy="219.88" r="2.05" fill="none" stroke="#151515" stroke-width="1.05"/>
<circle cx="567.40" cy="239.94" r="2.05" fill="none" stroke="#151515" stroke-width="1.05"/>
<circle cx="567.40" cy="260.01" r="2.05" fill="none" stroke="#151515" stroke-width="1.05"/>
<circle cx="567.40" cy="280.07" r="2.05" fill="none" stroke="#151515" stroke-width="1.05"/>
<circle cx="567.40" cy="300.14" r="2.05" fill="none" stroke="#151515" stroke-width="1.05"/>
<circle cx="567.40" cy="320.20" r="2.05" fill="none" stroke="#151515" stroke-width="1.05"/>
<circle cx="637.00" cy="39.30" r="2.05" fill="none" stroke="#151515" stroke-width="1.05"/>
<circle cx="637.00" cy="79.43" r="2.05" fill="none" stroke="#151515" stroke-width="1.05"/>
<circle cx="637.00" cy="119.56" r="2.05" fill="none" stroke="#151515" stroke-width="1.05"/>
<circle cx="637.00" cy="159.69" r="2.05" fill="none" stroke="#151515" stroke-width="1.05"/>
<circle cx="637.00" cy="199.81" r="2.05" fill="none" stroke="#151515" stroke-width="1.05"/>
<circle cx="637.00" cy="219.88" r="2.05" fill="none" stroke="#151515" stroke-width="1.05"/>
<circle cx="637.00" cy="239.94" r="2.05" fill="none" stroke="#151515" stroke-width="1.05"/>
<circle cx="637.00" cy="260.01" r="2.05" fill="none" stroke="#151515" stroke-width="1.05"/>
<circle cx="637.00" cy="280.07" r="2.05" fill="none" stroke="#151515" stroke-width="1.05"/>
<circle cx="637.00" cy="300.14" r="2.05" fill="none" stroke="#151515" stroke-width="1.05"/>
<circle cx="637.00" cy="320.20" r="2.05" fill="none" stroke="#151515" stroke-width="1.05"/>
</g></g>
<text x="200.00" y="55.10" font-size="9.27" text-anchor="start" fill="#ffffff" >100-year convergence time</text>
<text x="518.00" y="54.40" font-size="9.27" text-anchor="start" fill="#ffffff" transform="translate(0,0.8)">100-year convergence time</text>
<line x1="33.40" y1="39.30" x2="317.00" y2="39.30" stroke="#2a2a2a" stroke-width="1.0" />
<line x1="33.40" y1="320.20" x2="317.00" y2="320.20" stroke="#2a2a2a" stroke-width="1.0" />
<line x1="33.40" y1="39.30" x2="33.40" y2="320.20" stroke="#2a2a2a" stroke-width="1.0" />
<line x1="317.00" y1="39.30" x2="317.00" y2="320.20" stroke="#2a2a2a" stroke-width="1.0" />
<g transform="translate(0,0.8)">
<line x1="354.80" y1="39.30" x2="638.30" y2="39.30" stroke="#2a2a2a" stroke-width="1.0" />
<line x1="354.80" y1="320.20" x2="638.30" y2="320.20" stroke="#2a2a2a" stroke-width="1.0" />
<line x1="354.80" y1="39.30" x2="354.80" y2="320.20" stroke="#2a2a2a" stroke-width="1.0" />
<line x1="638.30" y1="39.30" x2="638.30" y2="320.20" stroke="#2a2a2a" stroke-width="1.0" />
</g>
<line x1="30.40" y1="320.20" x2="33.40" y2="320.20" stroke="#333" stroke-width="0.7" />
<text x="27.20" y="323.40" font-size="9.1" text-anchor="end" fill="#1a1a1a" >0</text>
<line x1="30.40" y1="280.07" x2="33.40" y2="280.07" stroke="#333" stroke-width="0.7" />
<text x="27.20" y="283.27" font-size="9.1" text-anchor="end" fill="#1a1a1a" >1</text>
<line x1="30.40" y1="239.94" x2="33.40" y2="239.94" stroke="#333" stroke-width="0.7" />
<text x="27.20" y="243.14" font-size="9.1" text-anchor="end" fill="#1a1a1a" >2</text>
<line x1="30.40" y1="199.81" x2="33.40" y2="199.81" stroke="#333" stroke-width="0.7" />
<text x="27.20" y="203.01" font-size="9.1" text-anchor="end" fill="#1a1a1a" >3</text>
<line x1="30.40" y1="159.69" x2="33.40" y2="159.69" stroke="#333" stroke-width="0.7" />
<text x="27.20" y="162.89" font-size="9.1" text-anchor="end" fill="#1a1a1a" >4</text>
<line x1="30.40" y1="119.56" x2="33.40" y2="119.56" stroke="#333" stroke-width="0.7" />
<text x="27.20" y="122.76" font-size="9.1" text-anchor="end" fill="#1a1a1a" >5</text>
<line x1="30.40" y1="79.43" x2="33.40" y2="79.43" stroke="#333" stroke-width="0.7" />
<text x="27.20" y="82.63" font-size="9.1" text-anchor="end" fill="#1a1a1a" >6</text>
<line x1="30.40" y1="39.30" x2="33.40" y2="39.30" stroke="#333" stroke-width="0.7" />
<text x="27.20" y="42.50" font-size="9.1" text-anchor="end" fill="#1a1a1a" >7</text>
<line x1="34.40" y1="320.20" x2="34.40" y2="323.20" stroke="#333" stroke-width="0.7" />
<text x="34.40" y="335.20" font-size="9.1" text-anchor="middle" fill="#1a1a1a" >0</text>
<line x1="69.65" y1="320.20" x2="69.65" y2="323.20" stroke="#333" stroke-width="0.7" />
<text x="69.65" y="335.20" font-size="9.1" text-anchor="middle" fill="#1a1a1a" >0.5</text>
<line x1="104.90" y1="320.20" x2="104.90" y2="323.20" stroke="#333" stroke-width="0.7" />
<text x="104.90" y="335.20" font-size="9.1" text-anchor="middle" fill="#1a1a1a" >1.0</text>
<line x1="140.15" y1="320.20" x2="140.15" y2="323.20" stroke="#333" stroke-width="0.7" />
<text x="140.15" y="335.20" font-size="9.1" text-anchor="middle" fill="#1a1a1a" >1.5</text>
<line x1="175.40" y1="320.20" x2="175.40" y2="323.20" stroke="#333" stroke-width="0.7" />
<text x="175.40" y="335.20" font-size="9.1" text-anchor="middle" fill="#1a1a1a" >2.0</text>
<line x1="210.65" y1="320.20" x2="210.65" y2="323.20" stroke="#333" stroke-width="0.7" />
<text x="210.65" y="335.20" font-size="9.1" text-anchor="middle" fill="#1a1a1a" >2.5</text>
<line x1="245.90" y1="320.20" x2="245.90" y2="323.20" stroke="#333" stroke-width="0.7" />
<text x="245.90" y="335.20" font-size="9.1" text-anchor="middle" fill="#1a1a1a" >3.0</text>
<line x1="281.15" y1="320.20" x2="281.15" y2="323.20" stroke="#333" stroke-width="0.7" />
<text x="281.15" y="335.20" font-size="9.1" text-anchor="middle" fill="#1a1a1a" >3.5</text>
<line x1="316.40" y1="320.20" x2="316.40" y2="323.20" stroke="#333" stroke-width="0.7" />
<text x="316.40" y="335.20" font-size="9.1" text-anchor="middle" fill="#1a1a1a" >4.0</text>
<line x1="34.40" y1="36.30" x2="34.40" y2="39.30" stroke="#333" stroke-width="0.7" />
<text x="33.20" y="32.20" font-size="9.1" text-anchor="middle" fill="#1a1a1a" >0.5</text>
<line x1="76.28" y1="36.30" x2="76.28" y2="39.30" stroke="#333" stroke-width="0.7" />
<text x="75.08" y="32.20" font-size="9.1" text-anchor="middle" fill="#1a1a1a" >1.0</text>
<line x1="118.15" y1="36.30" x2="118.15" y2="39.30" stroke="#333" stroke-width="0.7" />
<text x="116.95" y="32.20" font-size="9.1" text-anchor="middle" fill="#1a1a1a" >1.5</text>
<line x1="160.03" y1="36.30" x2="160.03" y2="39.30" stroke="#333" stroke-width="0.7" />
<text x="158.83" y="32.20" font-size="9.1" text-anchor="middle" fill="#1a1a1a" >2.0</text>
<line x1="201.90" y1="36.30" x2="201.90" y2="39.30" stroke="#333" stroke-width="0.7" />
<text x="200.70" y="32.20" font-size="9.1" text-anchor="middle" fill="#1a1a1a" >2.5</text>
<line x1="243.78" y1="36.30" x2="243.78" y2="39.30" stroke="#333" stroke-width="0.7" />
<text x="242.58" y="32.20" font-size="9.1" text-anchor="middle" fill="#1a1a1a" >3.0</text>
<line x1="285.65" y1="36.30" x2="285.65" y2="39.30" stroke="#333" stroke-width="0.7" />
<text x="284.45" y="32.20" font-size="9.1" text-anchor="middle" fill="#1a1a1a" >3.5</text>
<g transform="translate(0,0.8)">
<line x1="351.80" y1="320.20" x2="354.80" y2="320.20" stroke="#333" stroke-width="0.7" />
<text x="348.60" y="323.40" font-size="9.1" text-anchor="end" fill="#1a1a1a" >0</text>
<line x1="351.80" y1="280.07" x2="354.80" y2="280.07" stroke="#333" stroke-width="0.7" />
<text x="348.60" y="283.27" font-size="9.1" text-anchor="end" fill="#1a1a1a" >1</text>
<line x1="351.80" y1="239.94" x2="354.80" y2="239.94" stroke="#333" stroke-width="0.7" />
<text x="348.60" y="243.14" font-size="9.1" text-anchor="end" fill="#1a1a1a" >2</text>
<line x1="351.80" y1="199.81" x2="354.80" y2="199.81" stroke="#333" stroke-width="0.7" />
<text x="348.60" y="203.01" font-size="9.1" text-anchor="end" fill="#1a1a1a" >3</text>
<line x1="351.80" y1="159.69" x2="354.80" y2="159.69" stroke="#333" stroke-width="0.7" />
<text x="348.60" y="162.89" font-size="9.1" text-anchor="end" fill="#1a1a1a" >4</text>
<line x1="351.80" y1="119.56" x2="354.80" y2="119.56" stroke="#333" stroke-width="0.7" />
<text x="348.60" y="122.76" font-size="9.1" text-anchor="end" fill="#1a1a1a" >5</text>
<line x1="351.80" y1="79.43" x2="354.80" y2="79.43" stroke="#333" stroke-width="0.7" />
<text x="348.60" y="82.63" font-size="9.1" text-anchor="end" fill="#1a1a1a" >6</text>
<line x1="351.80" y1="39.30" x2="354.80" y2="39.30" stroke="#333" stroke-width="0.7" />
<text x="348.60" y="42.50" font-size="9.1" text-anchor="end" fill="#1a1a1a" >7</text>
<line x1="354.80" y1="320.20" x2="354.80" y2="323.20" stroke="#333" stroke-width="0.7" />
<text x="354.80" y="335.20" font-size="9.1" text-anchor="middle" fill="#1a1a1a" >0</text>
<line x1="390.12" y1="320.20" x2="390.12" y2="323.20" stroke="#333" stroke-width="0.7" />
<text x="390.12" y="335.20" font-size="9.1" text-anchor="middle" fill="#1a1a1a" >0.5</text>
<line x1="425.45" y1="320.20" x2="425.45" y2="323.20" stroke="#333" stroke-width="0.7" />
<text x="425.45" y="335.20" font-size="9.1" text-anchor="middle" fill="#1a1a1a" >1.0</text>
<line x1="460.77" y1="320.20" x2="460.77" y2="323.20" stroke="#333" stroke-width="0.7" />
<text x="460.77" y="335.20" font-size="9.1" text-anchor="middle" fill="#1a1a1a" >1.5</text>
<line x1="496.10" y1="320.20" x2="496.10" y2="323.20" stroke="#333" stroke-width="0.7" />
<text x="496.10" y="335.20" font-size="9.1" text-anchor="middle" fill="#1a1a1a" >2.0</text>
<line x1="531.42" y1="320.20" x2="531.42" y2="323.20" stroke="#333" stroke-width="0.7" />
<text x="531.42" y="335.20" font-size="9.1" text-anchor="middle" fill="#1a1a1a" >2.5</text>
<line x1="566.75" y1="320.20" x2="566.75" y2="323.20" stroke="#333" stroke-width="0.7" />
<text x="566.75" y="335.20" font-size="9.1" text-anchor="middle" fill="#1a1a1a" >3.0</text>
<line x1="602.08" y1="320.20" x2="602.08" y2="323.20" stroke="#333" stroke-width="0.7" />
<text x="602.08" y="335.20" font-size="9.1" text-anchor="middle" fill="#1a1a1a" >3.5</text>
<line x1="637.40" y1="320.20" x2="637.40" y2="323.20" stroke="#333" stroke-width="0.7" />
<text x="637.40" y="335.20" font-size="9.1" text-anchor="middle" fill="#1a1a1a" >4.0</text>
<line x1="356.70" y1="36.30" x2="356.70" y2="39.30" stroke="#333" stroke-width="0.7" />
<text x="355.50" y="32.20" font-size="9.1" text-anchor="middle" fill="#1a1a1a" >0.5</text>
<line x1="398.52" y1="36.30" x2="398.52" y2="39.30" stroke="#333" stroke-width="0.7" />
<text x="397.32" y="32.20" font-size="9.1" text-anchor="middle" fill="#1a1a1a" >1.0</text>
<line x1="440.35" y1="36.30" x2="440.35" y2="39.30" stroke="#333" stroke-width="0.7" />
<text x="439.15" y="32.20" font-size="9.1" text-anchor="middle" fill="#1a1a1a" >1.5</text>
<line x1="482.18" y1="36.30" x2="482.18" y2="39.30" stroke="#333" stroke-width="0.7" />
<text x="480.98" y="32.20" font-size="9.1" text-anchor="middle" fill="#1a1a1a" >2.0</text>
<line x1="524.00" y1="36.30" x2="524.00" y2="39.30" stroke="#333" stroke-width="0.7" />
<text x="522.80" y="32.20" font-size="9.1" text-anchor="middle" fill="#1a1a1a" >2.5</text>
<line x1="565.83" y1="36.30" x2="565.83" y2="39.30" stroke="#333" stroke-width="0.7" />
<text x="564.62" y="32.20" font-size="9.1" text-anchor="middle" fill="#1a1a1a" >3.0</text>
<line x1="607.65" y1="36.30" x2="607.65" y2="39.30" stroke="#333" stroke-width="0.7" />
<text x="606.45" y="32.20" font-size="9.1" text-anchor="middle" fill="#1a1a1a" >3.5</text>
</g>
<text x="176.70" y="7.70" font-size="9.25" text-anchor="middle" fill="#1a1a1a" >PISM-dEBM</text>
<text x="176.10" y="20.40" font-size="9.2" text-anchor="middle" fill="#1a1a1a" >Convergence ΔGMT above preindustrial (°C)</text>
<text x="498.20" y="7.70" font-size="9.25" text-anchor="middle" fill="#1a1a1a" >Yelmo-REMBO</text>
<text x="495.20" y="20.40" font-size="9.2" text-anchor="middle" fill="#1a1a1a" >Convergence ΔGMT above preindustrial (°C)</text>
<text x="175.6" y="348.2" font-size="9.1" text-anchor="middle" fill="#1a1a1a">Convergence <tspan dx="3.2">Δ</tspan><tspan font-style="italic">T</tspan><tspan font-size="6.4" dy="2.8">conv,JJA</tspan><tspan dy="-2.8"> above present (°C)</tspan></text>
<text x="496.6" y="349.0" font-size="9.1" text-anchor="middle" fill="#1a1a1a">Convergence <tspan dx="3.2">Δ</tspan><tspan font-style="italic">T</tspan><tspan font-size="6.4" dy="2.8">conv,JJA</tspan><tspan dy="-2.8"> above present (°C)</tspan></text>
<text x="0" y="0" font-size="9.2" text-anchor="middle" fill="#1a1a1a" transform="translate(12.4,180.4) rotate(-90)">Overshoot Δ<tspan font-style="italic">T</tspan><tspan font-size="6.4" dy="2.8">max,JJA</tspan><tspan dy="-2.8"> above present by </tspan><tspan font-size="6.6">AD</tspan> 2100 (°C)</text>
<text x="9.8" y="17.6" font-size="11.2" font-weight="bold" fill="#000">a</text>
<text x="336.0" y="18.3" font-size="11.2" font-weight="bold" fill="#000">b</text>
<text x="0.0" y="425.0" font-size="11.2" font-weight="bold" fill="#000">c</text>
<text x="336.1" y="425.0" font-size="11.2" font-weight="bold" fill="#000">d</text>
<rect x="647.2" y="53.4" width="13.799999999999955" height="267.6" fill="url(#gcb)"/>
<polygon points="647.2,54.2 647.2,53.4 654.1,39.7 661.0,53.4 661.0,54.2" fill="#48246f"/>
<polygon points="647.6,321.2 647.6,53.4 654.1,39.7 660.6,53.4 660.6,321.2" fill="none" stroke="#1a1a1a" stroke-width="1.05"/>
<line x1="661.00" y1="321.00" x2="663.50" y2="321.00" stroke="#333" stroke-width="0.7" />
<text x="665.20" y="324.20" font-size="9.1" text-anchor="start" fill="#1a1a1a" >0</text>
<line x1="661.00" y1="284.90" x2="663.50" y2="284.90" stroke="#333" stroke-width="0.7" />
<text x="665.20" y="288.10" font-size="9.1" text-anchor="start" fill="#1a1a1a" >1</text>
<line x1="661.00" y1="248.80" x2="663.50" y2="248.80" stroke="#333" stroke-width="0.7" />
<text x="665.20" y="252.00" font-size="9.1" text-anchor="start" fill="#1a1a1a" >2</text>
<line x1="661.00" y1="212.70" x2="663.50" y2="212.70" stroke="#333" stroke-width="0.7" />
<text x="665.20" y="215.90" font-size="9.1" text-anchor="start" fill="#1a1a1a" >3</text>
<line x1="661.00" y1="176.60" x2="663.50" y2="176.60" stroke="#333" stroke-width="0.7" />
<text x="665.20" y="179.80" font-size="9.1" text-anchor="start" fill="#1a1a1a" >4</text>
<line x1="661.00" y1="140.50" x2="663.50" y2="140.50" stroke="#333" stroke-width="0.7" />
<text x="665.20" y="143.70" font-size="9.1" text-anchor="start" fill="#1a1a1a" >5</text>
<line x1="661.00" y1="104.40" x2="663.50" y2="104.40" stroke="#333" stroke-width="0.7" />
<text x="665.20" y="107.60" font-size="9.1" text-anchor="start" fill="#1a1a1a" >6</text>
<line x1="661.00" y1="68.30" x2="663.50" y2="68.30" stroke="#333" stroke-width="0.7" />
<text x="665.20" y="71.50" font-size="9.1" text-anchor="start" fill="#1a1a1a" >7</text>
<text x="0" y="0" font-size="9.1" text-anchor="middle" fill="#1a1a1a" transform="translate(682.6,179.4) rotate(-90)">Equilibrium SLR (m)</text>
<text x="167.4" y="373.3" font-size="9.1" fill="#1a1a1a">Δ<tspan font-style="italic">T</tspan><tspan font-size="6.4" dy="2.8">max,JJA</tspan><tspan dy="-2.8"> (°C)</tspan></text>
<circle cx="168.50" cy="384.80" r="3.4" fill="#a8ecf6" stroke="#222" stroke-width="0.9"/>
<text x="176.90" y="388.00" font-size="9.1" text-anchor="start" fill="#1a1a1a" >0</text>
<circle cx="168.50" cy="394.80" r="3.4" fill="#78e0ea" stroke="#222" stroke-width="0.9"/>
<text x="176.90" y="398.00" font-size="9.1" text-anchor="start" fill="#1a1a1a" >0.5</text>
<circle cx="168.50" cy="404.70" r="3.4" fill="#5cd8cf" stroke="#222" stroke-width="0.9"/>
<text x="176.90" y="407.90" font-size="9.1" text-anchor="start" fill="#1a1a1a" >1.0</text>
<circle cx="205.40" cy="384.80" r="3.4" fill="#54d4ae" stroke="#222" stroke-width="0.9"/>
<text x="213.80" y="388.00" font-size="9.1" text-anchor="start" fill="#1a1a1a" >1.5</text>
<circle cx="205.40" cy="394.80" r="3.4" fill="#64c880" stroke="#222" stroke-width="0.9"/>
<text x="213.80" y="398.00" font-size="9.1" text-anchor="start" fill="#1a1a1a" >2.0</text>
<circle cx="205.40" cy="404.70" r="3.4" fill="#78be58" stroke="#222" stroke-width="0.9"/>
<text x="213.80" y="407.90" font-size="9.1" text-anchor="start" fill="#1a1a1a" >2.5</text>
<circle cx="240.90" cy="384.80" r="3.4" fill="#88bc3e" stroke="#222" stroke-width="0.9"/>
<text x="249.30" y="388.00" font-size="9.1" text-anchor="start" fill="#1a1a1a" >3.0</text>
<circle cx="240.90" cy="394.80" r="3.4" fill="#a4aa28" stroke="#222" stroke-width="0.9"/>
<text x="249.30" y="398.00" font-size="9.1" text-anchor="start" fill="#1a1a1a" >3.5</text>
<circle cx="240.90" cy="404.70" r="3.4" fill="#a88a20" stroke="#222" stroke-width="0.9"/>
<text x="249.30" y="407.90" font-size="9.1" text-anchor="start" fill="#1a1a1a" >4.0</text>
<circle cx="277.40" cy="384.80" r="3.4" fill="#b07a2a" stroke="#222" stroke-width="0.9"/>
<text x="285.80" y="388.00" font-size="9.1" text-anchor="start" fill="#1a1a1a" >4.5</text>
<circle cx="277.40" cy="394.80" r="3.4" fill="#ac6a38" stroke="#222" stroke-width="0.9"/>
<text x="285.80" y="398.00" font-size="9.1" text-anchor="start" fill="#1a1a1a" >5.0</text>
<circle cx="277.40" cy="404.70" r="3.4" fill="#ac5c46" stroke="#222" stroke-width="0.9"/>
<text x="285.80" y="407.90" font-size="9.1" text-anchor="start" fill="#1a1a1a" >5.5</text>
<circle cx="313.80" cy="384.80" r="3.4" fill="#a04a50" stroke="#222" stroke-width="0.9"/>
<text x="322.20" y="388.00" font-size="9.1" text-anchor="start" fill="#1a1a1a" >6.0</text>
<circle cx="313.80" cy="394.80" r="3.4" fill="#9a3a60" stroke="#222" stroke-width="0.9"/>
<text x="322.20" y="398.00" font-size="9.1" text-anchor="start" fill="#1a1a1a" >6.5</text>
<circle cx="313.80" cy="404.70" r="3.4" fill="#92206e" stroke="#222" stroke-width="0.9"/>
<text x="322.20" y="407.90" font-size="9.1" text-anchor="start" fill="#1a1a1a" >7.0</text>
<text x="350.10" y="376.90" font-size="9.1" text-anchor="start" fill="#1a1a1a" >Trend 90–100 kyr (m per 10 kyr)</text>
<polygon points="349.60,387.90 355.00,387.90 352.30,382.50" fill="none" stroke="#151515" stroke-width="0.8" stroke-linejoin="miter"/>
<text x="363.30" y="388.20" font-size="9.1" text-anchor="start" fill="#1a1a1a" >&gt;0.1</text>
<polygon points="349.60,391.60 355.00,391.60 352.30,397.00" fill="none" stroke="#151515" stroke-width="0.8" stroke-linejoin="miter"/>
<text x="363.30" y="397.90" font-size="9.1" text-anchor="start" fill="#1a1a1a" >&lt;−0.1</text>
<circle cx="352.30" cy="404.80" r="2.5" fill="none" stroke="#151515" stroke-width="0.8"/>
<text x="363.30" y="408.00" font-size="9.1" text-anchor="start" fill="#1a1a1a" >None</text>
<polyline points="31.3,446.4 314.4,446.4 314.4,727.4 31.3,727.4" fill="none" stroke="#505050" stroke-width="1.15"/>
<line x1="31.3" y1="445.9" x2="31.3" y2="727.9" stroke="#8c8c8c" stroke-width="1.9"/>
<line x1="27.80" y1="450.60" x2="31.30" y2="450.60" stroke="#333" stroke-width="0.7" />
<text x="25.70" y="453.20" font-size="9.1" text-anchor="end" fill="#1a1a1a" >0</text>
<line x1="27.80" y1="487.13" x2="31.30" y2="487.13" stroke="#333" stroke-width="0.7" />
<text x="25.70" y="489.73" font-size="9.1" text-anchor="end" fill="#1a1a1a" >1</text>
<line x1="27.80" y1="523.66" x2="31.30" y2="523.66" stroke="#333" stroke-width="0.7" />
<text x="25.70" y="526.26" font-size="9.1" text-anchor="end" fill="#1a1a1a" >2</text>
<line x1="27.80" y1="560.19" x2="31.30" y2="560.19" stroke="#333" stroke-width="0.7" />
<text x="25.70" y="562.79" font-size="9.1" text-anchor="end" fill="#1a1a1a" >3</text>
<line x1="27.80" y1="596.72" x2="31.30" y2="596.72" stroke="#333" stroke-width="0.7" />
<text x="25.70" y="599.32" font-size="9.1" text-anchor="end" fill="#1a1a1a" >4</text>
<line x1="27.80" y1="633.25" x2="31.30" y2="633.25" stroke="#333" stroke-width="0.7" />
<text x="25.70" y="635.85" font-size="9.1" text-anchor="end" fill="#1a1a1a" >5</text>
<line x1="27.80" y1="669.78" x2="31.30" y2="669.78" stroke="#333" stroke-width="0.7" />
<text x="25.70" y="672.38" font-size="9.1" text-anchor="end" fill="#1a1a1a" >6</text>
<line x1="27.80" y1="706.31" x2="31.30" y2="706.31" stroke="#333" stroke-width="0.7" />
<text x="25.70" y="708.91" font-size="9.1" text-anchor="end" fill="#1a1a1a" >7</text>
<line x1="33.30" y1="727.40" x2="33.30" y2="730.40" stroke="#333" stroke-width="0.7" />
<text x="33.60" y="740.00" font-size="9.1" text-anchor="middle" fill="#1a1a1a" >0</text>
<line x1="68.17" y1="727.40" x2="68.17" y2="730.40" stroke="#333" stroke-width="0.7" />
<text x="66.38" y="740.00" font-size="9.1" text-anchor="middle" fill="#1a1a1a" >0.5</text>
<line x1="103.05" y1="727.40" x2="103.05" y2="730.40" stroke="#333" stroke-width="0.7" />
<text x="101.25" y="740.00" font-size="9.1" text-anchor="middle" fill="#1a1a1a" >1.0</text>
<line x1="137.93" y1="727.40" x2="137.93" y2="730.40" stroke="#333" stroke-width="0.7" />
<text x="136.12" y="740.00" font-size="9.1" text-anchor="middle" fill="#1a1a1a" >1.5</text>
<line x1="172.80" y1="727.40" x2="172.80" y2="730.40" stroke="#333" stroke-width="0.7" />
<text x="171.00" y="740.00" font-size="9.1" text-anchor="middle" fill="#1a1a1a" >2.0</text>
<line x1="207.68" y1="727.40" x2="207.68" y2="730.40" stroke="#333" stroke-width="0.7" />
<text x="205.88" y="740.00" font-size="9.1" text-anchor="middle" fill="#1a1a1a" >2.5</text>
<line x1="242.55" y1="727.40" x2="242.55" y2="730.40" stroke="#333" stroke-width="0.7" />
<text x="240.75" y="740.00" font-size="9.1" text-anchor="middle" fill="#1a1a1a" >3.0</text>
<line x1="277.43" y1="727.40" x2="277.43" y2="730.40" stroke="#333" stroke-width="0.7" />
<text x="275.62" y="740.00" font-size="9.1" text-anchor="middle" fill="#1a1a1a" >3.5</text>
<line x1="312.30" y1="727.40" x2="312.30" y2="730.40" stroke="#333" stroke-width="0.7" />
<text x="310.50" y="740.00" font-size="9.1" text-anchor="middle" fill="#1a1a1a" >4.0</text>
<line x1="33.00" y1="443.40" x2="33.00" y2="446.40" stroke="#333" stroke-width="0.7" />
<text x="31.30" y="439.40" font-size="9.1" text-anchor="middle" fill="#1a1a1a" >0.5</text>
<line x1="74.58" y1="443.40" x2="74.58" y2="446.40" stroke="#333" stroke-width="0.7" />
<text x="72.88" y="439.40" font-size="9.1" text-anchor="middle" fill="#1a1a1a" >1.0</text>
<line x1="116.15" y1="443.40" x2="116.15" y2="446.40" stroke="#333" stroke-width="0.7" />
<text x="114.45" y="439.40" font-size="9.1" text-anchor="middle" fill="#1a1a1a" >1.5</text>
<line x1="157.73" y1="443.40" x2="157.73" y2="446.40" stroke="#333" stroke-width="0.7" />
<text x="156.03" y="439.40" font-size="9.1" text-anchor="middle" fill="#1a1a1a" >2.0</text>
<line x1="199.30" y1="443.40" x2="199.30" y2="446.40" stroke="#333" stroke-width="0.7" />
<text x="197.60" y="439.40" font-size="9.1" text-anchor="middle" fill="#1a1a1a" >2.5</text>
<line x1="240.88" y1="443.40" x2="240.88" y2="446.40" stroke="#333" stroke-width="0.7" />
<text x="239.18" y="439.40" font-size="9.1" text-anchor="middle" fill="#1a1a1a" >3.0</text>
<line x1="282.45" y1="443.40" x2="282.45" y2="446.40" stroke="#333" stroke-width="0.7" />
<text x="280.75" y="439.40" font-size="9.1" text-anchor="middle" fill="#1a1a1a" >3.5</text>
<line x1="314.40" y1="721.00" x2="317.40" y2="721.00" stroke="#333" stroke-width="0.7" />
<text x="318.60" y="724.20" font-size="9.1" text-anchor="start" fill="#1a1a1a" >0</text>
<line x1="314.40" y1="675.70" x2="317.40" y2="675.70" stroke="#333" stroke-width="0.7" />
<text x="318.60" y="678.90" font-size="9.1" text-anchor="start" fill="#1a1a1a" >0.5</text>
<line x1="314.40" y1="630.40" x2="317.40" y2="630.40" stroke="#333" stroke-width="0.7" />
<text x="318.60" y="633.60" font-size="9.1" text-anchor="start" fill="#1a1a1a" >1.0</text>
<line x1="314.40" y1="585.10" x2="317.40" y2="585.10" stroke="#333" stroke-width="0.7" />
<text x="318.60" y="588.30" font-size="9.1" text-anchor="start" fill="#1a1a1a" >1.5</text>
<line x1="314.40" y1="539.80" x2="317.40" y2="539.80" stroke="#333" stroke-width="0.7" />
<text x="318.60" y="543.00" font-size="9.1" text-anchor="start" fill="#1a1a1a" >2.0</text>
<line x1="314.40" y1="494.50" x2="317.40" y2="494.50" stroke="#333" stroke-width="0.7" />
<text x="318.60" y="497.70" font-size="9.1" text-anchor="start" fill="#1a1a1a" >2.5</text>
<line x1="314.40" y1="449.20" x2="317.40" y2="449.20" stroke="#333" stroke-width="0.7" />
<text x="318.60" y="452.40" font-size="9.1" text-anchor="start" fill="#1a1a1a" >3.0</text>
<polyline points="355.4,446.4 638.5,446.4 638.5,727.2 355.4,727.2" fill="none" stroke="#505050" stroke-width="1.15"/>
<line x1="355.4" y1="445.9" x2="355.4" y2="727.7" stroke="#8c8c8c" stroke-width="1.9"/>
<line x1="351.90" y1="450.60" x2="355.40" y2="450.60" stroke="#333" stroke-width="0.7" />
<text x="348.90" y="453.20" font-size="9.1" text-anchor="end" fill="#1a1a1a" >0</text>
<line x1="351.90" y1="487.10" x2="355.40" y2="487.10" stroke="#333" stroke-width="0.7" />
<text x="348.90" y="489.70" font-size="9.1" text-anchor="end" fill="#1a1a1a" >1</text>
<line x1="351.90" y1="523.60" x2="355.40" y2="523.60" stroke="#333" stroke-width="0.7" />
<text x="348.90" y="526.20" font-size="9.1" text-anchor="end" fill="#1a1a1a" >2</text>
<line x1="351.90" y1="560.10" x2="355.40" y2="560.10" stroke="#333" stroke-width="0.7" />
<text x="348.90" y="562.70" font-size="9.1" text-anchor="end" fill="#1a1a1a" >3</text>
<line x1="351.90" y1="596.60" x2="355.40" y2="596.60" stroke="#333" stroke-width="0.7" />
<text x="348.90" y="599.20" font-size="9.1" text-anchor="end" fill="#1a1a1a" >4</text>
<line x1="351.90" y1="633.10" x2="355.40" y2="633.10" stroke="#333" stroke-width="0.7" />
<text x="348.90" y="635.70" font-size="9.1" text-anchor="end" fill="#1a1a1a" >5</text>
<line x1="351.90" y1="669.60" x2="355.40" y2="669.60" stroke="#333" stroke-width="0.7" />
<text x="348.90" y="672.20" font-size="9.1" text-anchor="end" fill="#1a1a1a" >6</text>
<line x1="351.90" y1="706.10" x2="355.40" y2="706.10" stroke="#333" stroke-width="0.7" />
<text x="348.90" y="708.70" font-size="9.1" text-anchor="end" fill="#1a1a1a" >7</text>
<line x1="357.50" y1="727.20" x2="357.50" y2="730.20" stroke="#333" stroke-width="0.7" />
<text x="357.80" y="740.00" font-size="9.1" text-anchor="middle" fill="#1a1a1a" >0</text>
<line x1="392.35" y1="727.20" x2="392.35" y2="730.20" stroke="#333" stroke-width="0.7" />
<text x="390.55" y="740.00" font-size="9.1" text-anchor="middle" fill="#1a1a1a" >0.5</text>
<line x1="427.20" y1="727.20" x2="427.20" y2="730.20" stroke="#333" stroke-width="0.7" />
<text x="425.40" y="740.00" font-size="9.1" text-anchor="middle" fill="#1a1a1a" >1.0</text>
<line x1="462.05" y1="727.20" x2="462.05" y2="730.20" stroke="#333" stroke-width="0.7" />
<text x="460.25" y="740.00" font-size="9.1" text-anchor="middle" fill="#1a1a1a" >1.5</text>
<line x1="496.90" y1="727.20" x2="496.90" y2="730.20" stroke="#333" stroke-width="0.7" />
<text x="495.10" y="740.00" font-size="9.1" text-anchor="middle" fill="#1a1a1a" >2.0</text>
<line x1="531.75" y1="727.20" x2="531.75" y2="730.20" stroke="#333" stroke-width="0.7" />
<text x="529.95" y="740.00" font-size="9.1" text-anchor="middle" fill="#1a1a1a" >2.5</text>
<line x1="566.60" y1="727.20" x2="566.60" y2="730.20" stroke="#333" stroke-width="0.7" />
<text x="564.80" y="740.00" font-size="9.1" text-anchor="middle" fill="#1a1a1a" >3.0</text>
<line x1="601.45" y1="727.20" x2="601.45" y2="730.20" stroke="#333" stroke-width="0.7" />
<text x="599.65" y="740.00" font-size="9.1" text-anchor="middle" fill="#1a1a1a" >3.5</text>
<line x1="636.30" y1="727.20" x2="636.30" y2="730.20" stroke="#333" stroke-width="0.7" />
<text x="634.50" y="740.00" font-size="9.1" text-anchor="middle" fill="#1a1a1a" >4.0</text>
<line x1="357.40" y1="443.40" x2="357.40" y2="446.40" stroke="#333" stroke-width="0.7" />
<text x="355.70" y="439.40" font-size="9.1" text-anchor="middle" fill="#1a1a1a" >0.5</text>
<line x1="398.95" y1="443.40" x2="398.95" y2="446.40" stroke="#333" stroke-width="0.7" />
<text x="397.25" y="439.40" font-size="9.1" text-anchor="middle" fill="#1a1a1a" >1.0</text>
<line x1="440.50" y1="443.40" x2="440.50" y2="446.40" stroke="#333" stroke-width="0.7" />
<text x="438.80" y="439.40" font-size="9.1" text-anchor="middle" fill="#1a1a1a" >1.5</text>
<line x1="482.05" y1="443.40" x2="482.05" y2="446.40" stroke="#333" stroke-width="0.7" />
<text x="480.35" y="439.40" font-size="9.1" text-anchor="middle" fill="#1a1a1a" >2.0</text>
<line x1="523.60" y1="443.40" x2="523.60" y2="446.40" stroke="#333" stroke-width="0.7" />
<text x="521.90" y="439.40" font-size="9.1" text-anchor="middle" fill="#1a1a1a" >2.5</text>
<line x1="565.15" y1="443.40" x2="565.15" y2="446.40" stroke="#333" stroke-width="0.7" />
<text x="563.45" y="439.40" font-size="9.1" text-anchor="middle" fill="#1a1a1a" >3.0</text>
<line x1="606.70" y1="443.40" x2="606.70" y2="446.40" stroke="#333" stroke-width="0.7" />
<text x="605.00" y="439.40" font-size="9.1" text-anchor="middle" fill="#1a1a1a" >3.5</text>
<line x1="638.50" y1="721.00" x2="641.50" y2="721.00" stroke="#333" stroke-width="0.7" />
<text x="642.70" y="724.20" font-size="9.1" text-anchor="start" fill="#1a1a1a" >0</text>
<line x1="638.50" y1="675.70" x2="641.50" y2="675.70" stroke="#333" stroke-width="0.7" />
<text x="642.70" y="678.90" font-size="9.1" text-anchor="start" fill="#1a1a1a" >0.5</text>
<line x1="638.50" y1="630.40" x2="641.50" y2="630.40" stroke="#333" stroke-width="0.7" />
<text x="642.70" y="633.60" font-size="9.1" text-anchor="start" fill="#1a1a1a" >1.0</text>
<line x1="638.50" y1="585.10" x2="641.50" y2="585.10" stroke="#333" stroke-width="0.7" />
<text x="642.70" y="588.30" font-size="9.1" text-anchor="start" fill="#1a1a1a" >1.5</text>
<line x1="638.50" y1="539.80" x2="641.50" y2="539.80" stroke="#333" stroke-width="0.7" />
<text x="642.70" y="543.00" font-size="9.1" text-anchor="start" fill="#1a1a1a" >2.0</text>
<line x1="638.50" y1="494.50" x2="641.50" y2="494.50" stroke="#333" stroke-width="0.7" />
<text x="642.70" y="497.70" font-size="9.1" text-anchor="start" fill="#1a1a1a" >2.5</text>
<line x1="638.50" y1="449.20" x2="641.50" y2="449.20" stroke="#333" stroke-width="0.7" />
<text x="642.70" y="452.40" font-size="9.1" text-anchor="start" fill="#1a1a1a" >3.0</text>
<text x="176.50" y="426.20" font-size="9.2" text-anchor="middle" fill="#1a1a1a" >Convergence ΔGMT above preindustrial (°C)</text>
<text x="495.00" y="426.20" font-size="9.2" text-anchor="middle" fill="#1a1a1a" >Convergence ΔGMT above preindustrial (°C)</text>
<text x="172.0" y="753.4" font-size="9.1" text-anchor="middle" fill="#1a1a1a">Convergence <tspan dx="3.2">Δ</tspan><tspan font-style="italic">T</tspan><tspan font-size="6.4" dy="2.8">conv,JJA</tspan><tspan dy="-2.8"> above present (°C)</tspan></text>
<text x="496.5" y="753.4" font-size="9.1" text-anchor="middle" fill="#1a1a1a">Convergence <tspan dx="3.2">Δ</tspan><tspan font-style="italic">T</tspan><tspan font-size="6.4" dy="2.8">conv,JJA</tspan><tspan dy="-2.8"> above present (°C)</tspan></text>
<text x="0" y="0" font-size="9.1" text-anchor="middle" fill="#1a1a1a" transform="translate(11.6,587.0) rotate(-90)">Equilibrium SLR (m)</text>
<text x="0" y="0" font-size="9.1" text-anchor="middle" fill="#1a1a1a" transform="translate(674.6,584.3) rotate(-90)">Equilibrium ice volume (×10<tspan font-size="6.3" dy="-3">6</tspan><tspan dy="3"> km</tspan><tspan font-size="6.3" dy="-3">2</tspan><tspan dy="3">)</tspan></text>
<g clip-path="url(#cc)">
<polyline points="33.30,451.30 67.90,456.60 102.90,473.30 137.90,502.60 157.70,502.80 172.60,508.50 179.40,516.00 182.60,534.00 198.20,677.40 207.40,678.70 224.50,686.60 240.30,697.10 277.30,705.70 312.30,711.20" fill="none" stroke="#111" stroke-width="1.1" stroke-linejoin="round"/>
<circle cx="33.30" cy="454.50" r="3.7" fill="#2a3a20" stroke="#111" stroke-width="1.0"/>
<circle cx="33.30" cy="452.30" r="3.7" fill="#961f68" stroke="#111" stroke-width="1.0"/>
<circle cx="67.90" cy="456.60" r="3.7" fill="#000" stroke="#111" stroke-width="1.0"/>
<circle cx="74.80" cy="457.70" r="3.7" fill="#961f68" stroke="#111" stroke-width="1.0"/>
<circle cx="74.80" cy="466.50" r="3.7" fill="#1e3a1a" stroke="#111" stroke-width="1.0"/>
<circle cx="74.80" cy="469.50" r="3.7" fill="#6a2a40" stroke="#111" stroke-width="1.0"/>
<circle cx="74.80" cy="471.80" r="3.7" fill="#961f68" stroke="#111" stroke-width="1.0"/>
<circle cx="102.90" cy="473.30" r="3.7" fill="#000" stroke="#111" stroke-width="1.0"/>
<circle cx="116.20" cy="476.10" r="3.7" fill="#a04060" stroke="#111" stroke-width="1.0"/>
<circle cx="116.20" cy="485.00" r="3.7" fill="#8a3050" stroke="#111" stroke-width="1.0"/>
<circle cx="116.20" cy="482.10" r="3.7" fill="#961f68" stroke="#111" stroke-width="1.0"/>
<circle cx="137.90" cy="502.60" r="3.7" fill="#000" stroke="#111" stroke-width="1.0"/>
<polygon points="154.50,499.70 160.90,499.70 157.70,493.30" fill="#6a9a30" stroke="#111" stroke-width="0.9" stroke-linejoin="miter"/>
<polygon points="154.50,500.50 160.90,500.50 157.70,494.10" fill="#961f68" stroke="#111" stroke-width="0.9" stroke-linejoin="miter"/>
<polygon points="154.50,505.70 160.90,505.70 157.70,499.30" fill="#b06a30" stroke="#111" stroke-width="0.9" stroke-linejoin="miter"/>
<polygon points="154.50,506.60 160.90,506.60 157.70,500.20" fill="#961f68" stroke="#111" stroke-width="0.9" stroke-linejoin="miter"/>
<circle cx="172.60" cy="504.00" r="3.7" fill="#3a4a20" stroke="#111" stroke-width="1.0"/>
<circle cx="172.60" cy="512.50" r="3.7" fill="#c0802c" stroke="#111" stroke-width="1.0"/>
<circle cx="172.60" cy="508.20" r="3.7" fill="#961f68" stroke="#111" stroke-width="1.0"/>
<polygon points="176.20,516.70 182.60,516.70 179.40,510.30" fill="#111" stroke="#111" stroke-width="0.9" stroke-linejoin="miter"/>
<polygon points="176.20,522.20 182.60,522.20 179.40,515.80" fill="#961f68" stroke="#111" stroke-width="0.9" stroke-linejoin="miter"/>
<circle cx="179.40" cy="525.70" r="3.7" fill="#961f68" stroke="#111" stroke-width="1.0"/>
<polygon points="183.70,519.20 190.10,519.20 186.90,512.80" fill="#3ab8a0" stroke="#111" stroke-width="0.9" stroke-linejoin="miter"/>
<polygon points="183.70,524.20 190.10,524.20 186.90,517.80" fill="#c07a30" stroke="#111" stroke-width="0.9" stroke-linejoin="miter"/>
<polygon points="183.70,528.20 190.10,528.20 186.90,521.80" fill="#a8a020" stroke="#111" stroke-width="0.9" stroke-linejoin="miter"/>
<polygon points="183.70,531.40 190.10,531.40 186.90,525.00" fill="#961f68" stroke="#111" stroke-width="0.9" stroke-linejoin="miter"/>
<polygon points="183.70,537.70 190.10,537.70 186.90,531.30" fill="#b86040" stroke="#111" stroke-width="0.9" stroke-linejoin="miter"/>
<polygon points="183.70,539.20 190.10,539.20 186.90,532.80" fill="#961f68" stroke="#111" stroke-width="0.9" stroke-linejoin="miter"/>
<polygon points="183.10,670.20 189.50,670.20 186.30,676.60" fill="#70e0e8" stroke="#111" stroke-width="0.9" stroke-linejoin="miter"/>
<circle cx="186.30" cy="682.10" r="3.7" fill="#88c040" stroke="#111" stroke-width="1.0"/>
<polygon points="189.40,670.30 196.40,670.30 192.90,677.30" fill="#a05040" stroke="#111" stroke-width="0.9" stroke-linejoin="miter"/>
<polygon points="189.40,673.50 196.40,673.50 192.90,680.50" fill="#961f68" stroke="#111" stroke-width="0.9" stroke-linejoin="miter"/>
<circle cx="198.90" cy="680.50" r="3.7" fill="#4a4a20" stroke="#111" stroke-width="1.0"/>
<circle cx="198.90" cy="685.50" r="3.7" fill="#4a3020" stroke="#111" stroke-width="1.0"/>
<polygon points="195.70,682.70 202.10,682.70 198.90,676.30" fill="#961f68" stroke="#111" stroke-width="0.9" stroke-linejoin="miter"/>
<circle cx="198.90" cy="684.20" r="3.7" fill="#b05060" stroke="#111" stroke-width="1.0"/>
<circle cx="207.40" cy="678.70" r="3.7" fill="#000" stroke="#111" stroke-width="1.0"/>
<circle cx="240.30" cy="694.80" r="3.7" fill="#1a4a40" stroke="#111" stroke-width="1.0"/>
<circle cx="240.30" cy="700.20" r="3.7" fill="#a86a30" stroke="#111" stroke-width="1.0"/>
<circle cx="240.30" cy="697.50" r="3.7" fill="#961f68" stroke="#111" stroke-width="1.0"/>
<circle cx="277.30" cy="705.70" r="3.7" fill="#000" stroke="#111" stroke-width="1.0"/>
<circle cx="282.40" cy="705.70" r="3.7" fill="#961f68" stroke="#111" stroke-width="1.0"/>
<circle cx="312.30" cy="711.20" r="3.7" fill="#000" stroke="#111" stroke-width="1.0"/>
</g>
<g clip-path="url(#cd)">
<polyline points="357.50,452.60 391.80,455.60 426.80,461.50 433.90,463.30 440.80,464.60 448.00,467.50 454.90,471.50 455.30,478.00 461.60,628.80 497.10,671.20 531.50,683.80 566.80,691.30 636.20,708.40" fill="none" stroke="#111" stroke-width="1.1" stroke-linejoin="round"/>
<circle cx="357.50" cy="452.90" r="3.7" fill="#961f68" stroke="#111" stroke-width="1.0"/>
<circle cx="391.80" cy="455.20" r="3.7" fill="#000" stroke="#111" stroke-width="1.0"/>
<circle cx="391.80" cy="457.60" r="3.7" fill="#e2daec" stroke="#111" stroke-width="1.0"/>
<circle cx="426.80" cy="461.40" r="3.7" fill="#a89020" stroke="#111" stroke-width="1.0"/>
<circle cx="426.80" cy="463.90" r="3.7" fill="#961f68" stroke="#111" stroke-width="1.0"/>
<circle cx="433.90" cy="462.00" r="3.7" fill="#8a3040" stroke="#111" stroke-width="1.0"/>
<circle cx="433.90" cy="464.90" r="3.7" fill="#961f68" stroke="#111" stroke-width="1.0"/>
<circle cx="440.80" cy="464.20" r="3.7" fill="#000" stroke="#111" stroke-width="1.0"/>
<circle cx="440.80" cy="466.70" r="3.7" fill="#961f68" stroke="#111" stroke-width="1.0"/>
<circle cx="448.00" cy="473.60" r="3.7" fill="#b05a58" stroke="#111" stroke-width="1.0"/>
<circle cx="448.00" cy="466.70" r="3.7" fill="#961f68" stroke="#111" stroke-width="1.0"/>
<circle cx="454.90" cy="473.40" r="3.7" fill="#a89020" stroke="#111" stroke-width="1.0"/>
<circle cx="454.90" cy="477.40" r="3.7" fill="#961f68" stroke="#111" stroke-width="1.0"/>
<polygon points="458.80,561.00 465.20,561.00 462.00,567.40" fill="#a89428" stroke="#111" stroke-width="0.9" stroke-linejoin="miter"/>
<polygon points="458.80,618.00 465.20,618.00 462.00,624.40" fill="#4ac8b0" stroke="#111" stroke-width="0.9" stroke-linejoin="miter"/>
<polygon points="458.80,619.80 465.20,619.80 462.00,626.20" fill="#a0c838" stroke="#111" stroke-width="0.9" stroke-linejoin="miter"/>
<circle cx="461.80" cy="629.10" r="3.7" fill="#000" stroke="#111" stroke-width="1.0"/>
<polygon points="458.80,638.20 465.20,638.20 462.00,644.60" fill="#70c850" stroke="#111" stroke-width="0.9" stroke-linejoin="miter"/>
<polygon points="458.80,647.60 465.20,647.60 462.00,654.00" fill="#961f68" stroke="#111" stroke-width="0.9" stroke-linejoin="miter"/>
<polygon points="458.80,653.60 465.20,653.60 462.00,660.00" fill="#2a9a78" stroke="#111" stroke-width="0.9" stroke-linejoin="miter"/>
<polygon points="458.80,656.10 465.20,656.10 462.00,662.50" fill="#48c080" stroke="#111" stroke-width="0.9" stroke-linejoin="miter"/>
<circle cx="497.10" cy="670.80" r="3.7" fill="#a89020" stroke="#111" stroke-width="1.0"/>
<circle cx="497.10" cy="677.40" r="3.7" fill="#961f68" stroke="#111" stroke-width="1.0"/>
<circle cx="531.50" cy="678.90" r="3.7" fill="#80b840" stroke="#111" stroke-width="1.0"/>
<circle cx="531.50" cy="684.00" r="3.7" fill="#000" stroke="#111" stroke-width="1.0"/>
<circle cx="531.50" cy="681.90" r="3.7" fill="#961f68" stroke="#111" stroke-width="1.0"/>
<circle cx="566.80" cy="688.50" r="3.7" fill="#b05048" stroke="#111" stroke-width="1.0"/>
<circle cx="566.80" cy="690.90" r="3.7" fill="#961f68" stroke="#111" stroke-width="1.0"/>
<circle cx="636.20" cy="708.20" r="3.7" fill="#961f68" stroke="#111" stroke-width="1.0"/>
</g>
</svg></body></html>
